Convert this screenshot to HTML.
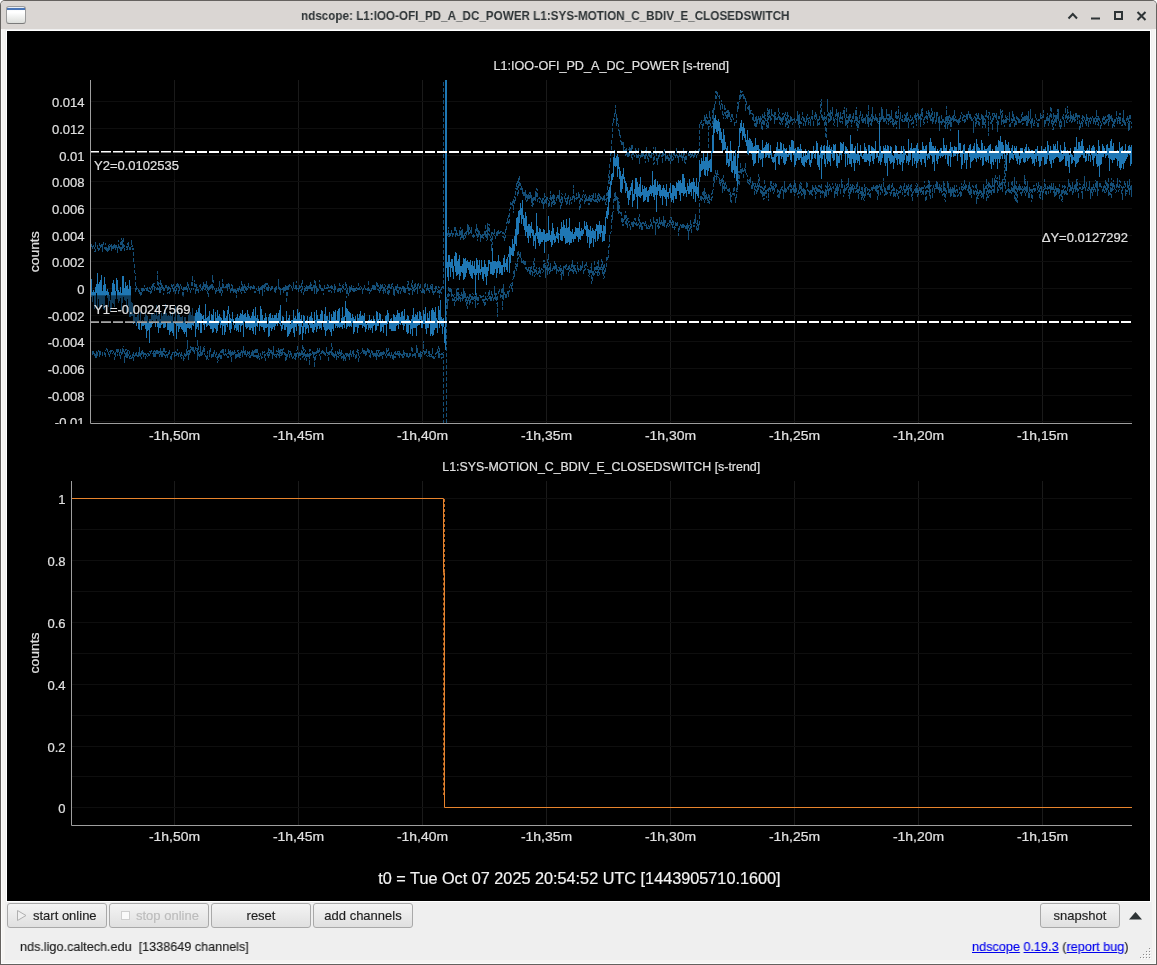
<!DOCTYPE html>
<html><head><meta charset="utf-8">
<style>
*{box-sizing:border-box}
.ttl,.btn,.status,.links{will-change:transform}
.btn,.status,.links{-webkit-text-stroke:0.15px currentColor}
html,body{margin:0;padding:0}
body{width:1157px;height:965px;position:relative;overflow:hidden;background:#fff;font-family:"Liberation Sans",sans-serif}
#win{position:absolute;left:0;top:0;width:1157px;height:965px;background:#65625f;border-radius:5px 5px 0 0}
#frame{position:absolute;left:1px;top:1px;width:1155px;height:963px;background:#fcfcfc;border-radius:4px 4px 0 0}
#frame2{position:absolute;left:2px;top:2px;width:1153px;height:961px;background:#f5f4f2;border-radius:4px 4px 0 0}
#title{position:absolute;left:1px;top:1px;width:1155px;height:28px;background:#dad6d3;border-radius:4px 4px 0 0}
#content{position:absolute;left:5px;top:29px;width:1147px;height:931px;background:#efefef}
#plotframe{position:absolute;left:6px;top:30px;width:1145px;height:872px;background:#fff}
#plot{position:absolute;left:7px;top:31px;width:1143px;height:870px;background:#000}
.ttl{position:absolute;left:300.6px;top:5.5px;transform:scaleX(0.898);font-weight:bold;font-size:13px;color:#2e3436;white-space:nowrap;transform-origin:0 0;line-height:20px}
.icon{position:absolute;left:6px;top:6px;width:20px;height:18px;border:1px solid #9a9a9a;border-bottom-color:#7a7a7a;border-radius:3px;background:linear-gradient(#e8eef6 0,#e8eef6 1px,#fff 4px,#fff 35%,#dcdedb 100%)}
.icon:before{content:"";position:absolute;left:0;right:0;top:1px;height:2px;background:#4a76b8}
.btn{position:absolute;top:903px;height:25px;border:1px solid #a9a9a9;border-radius:3px;background:linear-gradient(#f4f4f4,#e0e0e0);font-size:13px;color:#1e1e1e;text-align:center;line-height:23px;white-space:nowrap}
.dis{color:#bcbcbc}
.status{position:absolute;left:20px;top:938.5px;transform:scaleX(0.971);transform-origin:0 0;font-size:13px;color:#1e1e1e;white-space:pre;line-height:16px}
.links{position:absolute;left:972px;top:938.5px;transform:scaleX(0.975);transform-origin:0 0;font-size:13px;color:#1e1e1e;white-space:pre;line-height:16px}
.links a{color:#0000ee;text-decoration:underline}
.grip{position:absolute;width:1px;height:1px;background:#8a8a8a;box-shadow:1px 1px 0 #fff}
</style></head><body>
<div id="win"></div>
<div id="frame"></div>
<div id="frame2"></div>
<div id="title"></div>
<div class="icon"></div>
<div class="ttl" id="ttl">ndscope: L1:IOO-OFI_PD_A_DC_POWER L1:SYS-MOTION_C_BDIV_E_CLOSEDSWITCH</div>
<svg width="1157" height="30" style="position:absolute;left:0;top:0">
<path d="M1068.5 18.5L1072.8 14L1077 18.5" fill="none" stroke="#2e3436" stroke-width="2"/>
<rect x="1091" y="17.5" width="9" height="2" fill="#2e3436"/>
<rect x="1115" y="12" width="7" height="7" fill="none" stroke="#2e3436" stroke-width="2"/>
<path d="M1137.5 12L1145.5 20M1145.5 12L1137.5 20" stroke="#2e3436" stroke-width="2"/>
</svg>
<div id="content"></div>
<div id="plotframe"></div>
<div id="plot"></div>
<svg width="1157" height="965" viewBox="0 0 1157 965" style="position:absolute;left:0;top:0;will-change:transform">
<defs><clipPath id="ct"><rect x="91" y="80" width="1041" height="343"/></clipPath><clipPath id="cb"><rect x="72" y="481" width="1060" height="344"/></clipPath><clipPath id="cl"><rect x="0" y="0" width="90" height="424"/></clipPath></defs>
<line x1="174.5" y1="80" x2="174.5" y2="423" stroke="#1a1a1a"/><line x1="174.5" y1="481" x2="174.5" y2="825" stroke="#1a1a1a"/><line x1="298.5" y1="80" x2="298.5" y2="423" stroke="#1a1a1a"/><line x1="298.5" y1="481" x2="298.5" y2="825" stroke="#1a1a1a"/><line x1="422.5" y1="80" x2="422.5" y2="423" stroke="#1a1a1a"/><line x1="422.5" y1="481" x2="422.5" y2="825" stroke="#1a1a1a"/><line x1="546.5" y1="80" x2="546.5" y2="423" stroke="#1a1a1a"/><line x1="546.5" y1="481" x2="546.5" y2="825" stroke="#1a1a1a"/><line x1="670.5" y1="80" x2="670.5" y2="423" stroke="#1a1a1a"/><line x1="670.5" y1="481" x2="670.5" y2="825" stroke="#1a1a1a"/><line x1="794.5" y1="80" x2="794.5" y2="423" stroke="#1a1a1a"/><line x1="794.5" y1="481" x2="794.5" y2="825" stroke="#1a1a1a"/><line x1="918.5" y1="80" x2="918.5" y2="423" stroke="#1a1a1a"/><line x1="918.5" y1="481" x2="918.5" y2="825" stroke="#1a1a1a"/><line x1="1042.5" y1="80" x2="1042.5" y2="423" stroke="#1a1a1a"/><line x1="1042.5" y1="481" x2="1042.5" y2="825" stroke="#1a1a1a"/><line x1="91" y1="101.5" x2="1132" y2="101.5" stroke="#0e0e0e"/><line x1="91" y1="128.5" x2="1132" y2="128.5" stroke="#0e0e0e"/><line x1="91" y1="155.5" x2="1132" y2="155.5" stroke="#0e0e0e"/><line x1="91" y1="181.5" x2="1132" y2="181.5" stroke="#0e0e0e"/><line x1="91" y1="208.5" x2="1132" y2="208.5" stroke="#0e0e0e"/><line x1="91" y1="235.5" x2="1132" y2="235.5" stroke="#0e0e0e"/><line x1="91" y1="261.5" x2="1132" y2="261.5" stroke="#0e0e0e"/><line x1="91" y1="288.5" x2="1132" y2="288.5" stroke="#0e0e0e"/><line x1="91" y1="315.5" x2="1132" y2="315.5" stroke="#0e0e0e"/><line x1="91" y1="341.5" x2="1132" y2="341.5" stroke="#0e0e0e"/><line x1="91" y1="368.5" x2="1132" y2="368.5" stroke="#0e0e0e"/><line x1="91" y1="395.5" x2="1132" y2="395.5" stroke="#0e0e0e"/><line x1="91" y1="421.5" x2="1132" y2="421.5" stroke="#0e0e0e"/><line x1="72" y1="498.5" x2="1132" y2="498.5" stroke="#0e0e0e"/><line x1="72" y1="529.5" x2="1132" y2="529.5" stroke="#0e0e0e"/><line x1="72" y1="560.5" x2="1132" y2="560.5" stroke="#0e0e0e"/><line x1="72" y1="591.5" x2="1132" y2="591.5" stroke="#0e0e0e"/><line x1="72" y1="622.5" x2="1132" y2="622.5" stroke="#0e0e0e"/><line x1="72" y1="653.5" x2="1132" y2="653.5" stroke="#0e0e0e"/><line x1="72" y1="684.5" x2="1132" y2="684.5" stroke="#0e0e0e"/><line x1="72" y1="715.5" x2="1132" y2="715.5" stroke="#0e0e0e"/><line x1="72" y1="746.5" x2="1132" y2="746.5" stroke="#0e0e0e"/><line x1="72" y1="776.5" x2="1132" y2="776.5" stroke="#0e0e0e"/><line x1="72" y1="807.5" x2="1132" y2="807.5" stroke="#0e0e0e"/>
<g clip-path="url(#ct)" fill="none" stroke-linejoin="miter">
<path d="M90.0 242.5L90.4 247.9L90.8 251.3L91.2 243.8L91.7 245.0L92.1 246.9L92.5 249.5L92.9 247.9L93.3 245.5L93.7 247.8L94.1 249.4L94.5 247.4L95.0 251.8L95.4 247.6L95.8 243.4L96.2 244.1L96.6 245.8L97.0 245.5L97.4 247.8L97.9 246.5L98.3 250.9L98.7 248.0L99.1 250.3L99.5 243.2L99.9 244.3L100.3 247.7L100.8 246.0L101.2 247.7L101.6 247.5L102.0 244.2L102.4 251.5L102.8 250.5L103.2 242.2L103.6 245.1L104.1 246.9L104.5 248.9L104.9 246.9L105.3 243.1L105.7 249.7L106.1 246.6L106.5 250.8L107.0 248.2L107.4 250.5L107.8 252.9L108.2 250.0L108.6 245.5L109.0 250.2L109.4 247.5L109.8 243.6L110.3 246.2L110.7 246.5L111.1 248.8L111.5 249.6L111.9 244.2L112.3 249.8L112.7 247.6L113.2 244.3L113.6 250.3L114.0 245.3L114.4 243.8L114.8 249.2L115.2 249.5L115.6 244.8L116.0 250.1L116.5 249.9L116.9 245.4L117.3 253.0L117.7 246.8L118.1 247.9L118.5 239.9L118.9 249.4L119.4 245.8L119.8 249.2L120.2 242.4L120.6 250.6L121.0 251.0L121.4 252.2L121.8 237.6L122.3 248.3L122.7 247.6L123.1 237.6L123.5 244.3L123.9 246.4L124.3 250.9L124.7 244.6L125.1 247.8L125.6 247.0L126.0 248.2L126.4 245.6L126.8 249.7L127.2 249.6L127.6 242.6L128.0 249.7L128.5 241.6L128.9 245.8L129.3 249.8L129.7 246.6L130.1 247.7L130.5 248.7L130.9 248.0L131.3 244.9L131.8 240.5L132.2 249.0L132.6 249.1L133.0 248.0L133.4 251.7L133.8 260.6L134.2 263.3L134.7 265.2L135.1 275.6L135.5 282.4L135.9 291.9L136.3 285.5L136.7 286.2L137.1 289.3L137.6 287.4L138.0 288.6L138.4 291.5L138.8 289.9L139.2 294.1L139.6 289.9L140.0 294.1L140.4 292.4L140.9 296.7L141.3 289.0L141.7 288.6L142.1 292.9L142.5 287.5L142.9 288.1L143.3 290.0L143.8 290.2L144.2 284.9L144.6 291.1L145.0 288.2L145.4 289.0L145.8 289.2L146.2 288.0L146.6 291.5L147.1 291.8L147.5 287.8L147.9 288.3L148.3 291.1L148.7 290.4L149.1 291.7L149.5 287.5L150.0 288.0L150.4 293.6L150.8 287.7L151.2 292.9L151.6 290.5L152.0 286.5L152.4 283.9L152.9 289.7L153.3 283.2L153.7 285.4L154.1 282.7L154.5 291.3L154.9 288.1L155.3 287.6L155.7 288.8L156.2 288.4L156.6 288.2L157.0 289.6L157.4 287.0L157.8 271.5L158.2 290.3L158.6 289.4L159.1 288.4L159.5 293.0L159.9 284.0L160.3 279.5L160.7 292.8L161.1 289.3L161.5 283.0L161.9 286.9L162.4 290.1L162.8 284.8L163.2 290.1L163.6 294.8L164.0 292.7L164.4 288.3L164.8 289.5L165.3 285.5L165.7 289.0L166.1 287.6L166.5 285.6L166.9 284.5L167.3 294.4L167.7 289.2L168.2 285.5L168.6 287.3L169.0 292.9L169.4 293.4L169.8 287.0L170.2 289.3L170.6 291.5L171.0 287.6L171.5 285.4L171.9 286.1L172.3 288.9L172.7 286.4L173.1 284.3L173.5 287.5L173.9 290.9L174.4 290.1L174.8 287.5L175.2 293.5L175.6 286.0L176.0 288.2L176.4 284.5L176.8 290.8L177.2 287.5L177.7 282.6L178.1 284.9L178.5 293.3L178.9 293.3L179.3 288.6L179.7 290.9L180.1 283.6L180.6 286.2L181.0 284.9L181.4 286.4L181.8 287.5L182.2 290.0L182.6 295.6L183.0 291.7L183.4 296.8L183.9 287.2L184.3 288.7L184.7 289.9L185.1 286.1L185.5 287.2L185.9 289.7L186.3 286.0L186.8 289.7L187.2 292.0L187.6 285.7L188.0 282.3L188.4 289.4L188.8 285.7L189.2 289.3L189.7 287.7L190.1 291.2L190.5 292.0L190.9 291.1L191.3 287.4L191.7 285.2L192.1 281.4L192.5 275.3L193.0 286.8L193.4 290.0L193.8 287.5L194.2 288.2L194.6 279.8L195.0 285.3L195.4 284.7L195.9 294.2L196.3 283.9L196.7 291.5L197.1 286.8L197.5 291.1L197.9 289.9L198.3 291.6L198.7 292.7L199.2 286.7L199.6 285.7L200.0 287.0L200.4 283.9L200.8 290.9L201.2 288.5L201.6 288.8L202.1 289.5L202.5 286.5L202.9 290.9L203.3 282.2L203.7 288.6L204.1 288.8L204.5 284.9L205.0 285.3L205.4 289.9L205.8 286.4L206.2 281.4L206.6 283.2L207.0 290.5L207.4 285.1L207.8 291.8L208.3 296.7L208.7 287.0L209.1 289.6L209.5 285.5L209.9 287.1L210.3 286.3L210.7 289.7L211.2 283.9L211.6 287.4L212.0 287.9L212.4 289.6L212.8 274.6L213.2 283.2L213.6 286.2L214.0 287.7L214.5 289.0L214.9 288.9L215.3 294.2L215.7 290.5L216.1 290.1L216.5 287.0L216.9 290.7L217.4 290.1L217.8 290.1L218.2 287.2L218.6 290.2L219.0 292.9L219.4 285.5L219.8 281.4L220.2 293.0L220.7 289.9L221.1 287.1L221.5 286.8L221.9 296.4L222.3 286.6L222.7 279.5L223.1 285.9L223.6 288.7L224.0 285.0L224.4 285.8L224.8 288.0L225.2 286.1L225.6 288.0L226.0 287.6L226.5 284.5L226.9 288.1L227.3 284.5L227.7 290.7L228.1 285.2L228.5 287.5L228.9 282.6L229.3 286.5L229.8 285.0L230.2 293.4L230.6 288.9L231.0 291.0L231.4 284.2L231.8 285.7L232.2 288.9L232.7 285.5L233.1 293.4L233.5 288.7L233.9 290.4L234.3 291.2L234.7 289.6L235.1 292.6L235.5 288.0L236.0 292.2L236.4 297.5L236.8 290.5L237.2 290.1L237.6 287.8L238.0 290.5L238.4 292.4L238.9 289.7L239.3 285.6L239.7 291.2L240.1 289.6L240.5 291.4L240.9 290.0L241.3 294.2L241.8 281.3L242.2 286.2L242.6 291.0L243.0 286.1L243.4 290.1L243.8 289.3L244.2 283.3L244.6 290.9L245.1 293.1L245.5 289.3L245.9 284.7L246.3 291.2L246.7 285.7L247.1 288.0L247.5 289.8L248.0 285.8L248.4 282.9L248.8 287.6L249.2 287.8L249.6 285.6L250.0 286.0L250.4 290.5L250.8 288.1L251.3 286.9L251.7 286.4L252.1 288.8L252.5 288.9L252.9 288.3L253.3 284.7L253.7 287.8L254.2 287.1L254.6 289.5L255.0 292.7L255.4 292.4L255.8 291.5L256.2 290.0L256.6 288.5L257.1 290.7L257.5 288.5L257.9 288.6L258.3 287.5L258.7 289.7L259.1 289.0L259.5 294.0L259.9 289.7L260.4 286.7L260.8 290.3L261.2 286.2L261.6 290.6L262.0 289.7L262.4 296.2L262.8 284.3L263.3 287.1L263.7 287.3L264.1 288.6L264.5 292.4L264.9 284.8L265.3 282.7L265.7 288.0L266.1 289.7L266.6 284.0L267.0 282.7L267.4 290.5L267.8 289.8L268.2 291.1L268.6 284.7L269.0 287.2L269.5 288.8L269.9 289.8L270.3 288.3L270.7 288.7L271.1 291.5L271.5 285.8L271.9 285.2L272.4 287.9L272.8 287.7L273.2 289.4L273.6 287.5L274.0 287.5L274.4 292.6L274.8 289.3L275.2 287.5L275.7 292.6L276.1 285.4L276.5 289.0L276.9 288.5L277.3 287.3L277.7 287.8L278.1 289.0L278.6 279.1L279.0 287.4L279.4 289.0L279.8 289.1L280.2 288.9L280.6 295.3L281.0 290.4L281.4 288.1L281.9 288.4L282.3 288.8L282.7 290.3L283.1 287.8L283.5 293.4L283.9 285.9L284.3 290.5L284.8 290.2L285.2 285.4L285.6 290.3L286.0 289.9L286.4 286.2L286.8 302.9L287.2 290.4L287.6 285.9L288.1 287.1L288.5 286.4L288.9 289.3L289.3 288.5L289.7 284.3L290.1 285.5L290.5 286.6L291.0 287.1L291.4 287.3L291.8 286.6L292.2 290.1L292.6 291.2L293.0 288.4L293.4 282.0L293.9 287.3L294.3 289.3L294.7 287.9L295.1 288.9L295.5 288.3L295.9 284.1L296.3 281.3L296.7 290.5L297.2 287.6L297.6 290.3L298.0 288.2L298.4 288.4L298.8 292.5L299.2 285.5L299.6 289.2L300.1 286.1L300.5 289.3L300.9 290.6L301.3 291.6L301.7 290.0L302.1 280.5L302.5 289.7L302.9 291.1L303.4 291.4L303.8 294.6L304.2 290.4L304.6 285.9L305.0 287.1L305.4 288.8L305.8 291.7L306.3 285.4L306.7 291.3L307.1 290.3L307.5 285.5L307.9 290.1L308.3 286.3L308.7 288.2L309.2 287.6L309.6 288.8L310.0 284.4L310.4 289.3L310.8 281.5L311.2 286.4L311.6 285.8L312.0 291.7L312.5 288.7L312.9 286.2L313.3 285.1L313.7 288.1L314.1 286.3L314.5 294.2L314.9 280.1L315.4 288.2L315.8 280.8L316.2 294.4L316.6 286.1L317.0 292.8L317.4 287.0L317.8 291.8L318.2 289.0L318.7 291.4L319.1 288.2L319.5 279.8L319.9 286.4L320.3 284.1L320.7 291.4L321.1 290.4L321.6 288.9L322.0 290.1L322.4 289.6L322.8 287.7L323.2 294.9L323.6 290.4L324.0 288.9L324.4 285.0L324.9 287.5L325.3 289.4L325.7 289.1L326.1 288.2L326.5 289.3L326.9 286.0L327.3 289.2L327.8 284.5L328.2 286.3L328.6 286.5L329.0 291.6L329.4 290.5L329.8 289.2L330.2 285.9L330.7 288.1L331.1 291.4L331.5 292.5L331.9 284.5L332.3 287.3L332.7 288.8L333.1 289.3L333.5 288.3L334.0 289.8L334.4 283.8L334.8 292.6L335.2 285.0L335.6 288.3L336.0 289.8L336.4 291.3L336.9 290.4L337.3 290.1L337.7 291.5L338.1 287.6L338.5 290.3L338.9 292.8L339.3 286.2L339.7 284.4L340.2 285.7L340.6 292.3L341.0 292.1L341.4 287.6L341.8 289.6L342.2 290.4L342.6 292.2L343.1 283.9L343.5 287.7L343.9 288.2L344.3 290.1L344.7 289.6L345.1 288.4L345.5 290.0L346.0 281.8L346.4 297.8L346.8 291.7L347.2 292.3L347.6 287.9L348.0 290.8L348.4 295.6L348.8 294.9L349.3 289.6L349.7 285.7L350.1 289.6L350.5 287.2L350.9 291.9L351.3 285.5L351.7 288.6L352.2 289.8L352.6 287.8L353.0 292.3L353.4 286.1L353.8 286.1L354.2 288.7L354.6 292.0L355.0 288.4L355.5 287.2L355.9 291.2L356.3 289.3L356.7 287.1L357.1 289.1L357.5 287.7L357.9 290.3L358.4 288.9L358.8 283.2L359.2 286.9L359.6 287.2L360.0 289.6L360.4 289.5L360.8 285.9L361.3 287.6L361.7 289.1L362.1 291.5L362.5 289.0L362.9 293.9L363.3 288.1L363.7 290.0L364.1 286.9L364.6 285.2L365.0 288.4L365.4 290.0L365.8 289.9L366.2 289.6L366.6 288.4L367.0 287.2L367.5 288.6L367.9 290.9L368.3 292.1L368.7 280.0L369.1 291.2L369.5 292.6L369.9 293.2L370.3 290.6L370.8 291.6L371.2 288.6L371.6 289.5L372.0 291.3L372.4 286.3L372.8 287.1L373.2 289.5L373.7 285.4L374.1 289.6L374.5 284.9L374.9 289.6L375.3 289.0L375.7 286.4L376.1 285.5L376.6 286.9L377.0 281.8L377.4 286.7L377.8 288.1L378.2 291.1L378.6 286.3L379.0 287.1L379.4 291.6L379.9 292.5L380.3 284.2L380.7 290.5L381.1 290.7L381.5 290.4L381.9 284.0L382.3 284.4L382.8 288.7L383.2 293.8L383.6 286.9L384.0 291.8L384.4 292.8L384.8 284.1L385.2 285.8L385.6 292.1L386.1 291.1L386.5 289.6L386.9 287.7L387.3 290.0L387.7 286.4L388.1 295.3L388.5 284.8L389.0 283.0L389.4 288.7L389.8 292.5L390.2 287.0L390.6 288.3L391.0 285.6L391.4 288.7L391.8 285.8L392.3 282.9L392.7 284.7L393.1 287.8L393.5 294.8L393.9 289.1L394.3 289.5L394.7 295.6L395.2 287.0L395.6 286.0L396.0 290.6L396.4 285.5L396.8 290.4L397.2 293.1L397.6 282.8L398.1 288.4L398.5 294.9L398.9 286.8L399.3 288.0L399.7 290.6L400.1 289.0L400.5 287.4L400.9 294.2L401.4 288.0L401.8 290.6L402.2 286.9L402.6 287.9L403.0 285.7L403.4 292.3L403.8 288.2L404.3 293.0L404.7 286.4L405.1 288.4L405.5 291.2L405.9 290.2L406.3 287.7L406.7 289.2L407.1 285.6L407.6 289.2L408.0 281.2L408.4 289.6L408.8 292.9L409.2 294.8L409.6 291.8L410.0 288.1L410.5 290.8L410.9 288.3L411.3 289.3L411.7 289.2L412.1 279.7L412.5 295.6L412.9 291.0L413.4 291.9L413.8 286.4L414.2 291.3L414.6 290.9L415.0 283.0L415.4 284.1L415.8 289.5L416.2 287.3L416.7 289.3L417.1 287.5L417.5 293.8L417.9 284.0L418.3 285.6L418.7 282.9L419.1 285.2L419.6 285.4L420.0 288.5L420.4 284.5L420.8 289.3L421.2 291.9L421.6 291.5L422.0 294.0L422.4 291.5L422.9 287.7L423.3 293.3L423.7 290.3L424.1 293.8L424.5 288.1L424.9 282.3L425.3 284.7L425.8 288.5L426.2 289.7L426.6 287.7L427.0 290.8L427.4 284.5L427.8 285.6L428.2 290.9L428.6 288.5L429.1 288.7L429.5 292.4L429.9 291.6L430.3 286.3L430.7 289.4L431.1 284.2L431.5 288.9L432.0 291.5L432.4 283.9L432.8 293.2L433.2 294.9L433.6 290.4L434.0 291.6L434.4 293.2L434.9 288.2L435.3 292.0L435.7 290.4L436.1 285.2L436.5 287.0L436.9 287.8L437.3 293.2L437.7 290.6L438.2 293.3L438.6 288.9L439.0 286.2L439.4 295.7L439.8 297.7L440.2 291.1L440.6 289.4L441.1 293.5L441.5 286.8L441.9 289.6L442.3 285.7L443.5 289.0L443.5 40.0L445.5 40.0L445.5 234.0L445.6 233.9L446.0 239.0L446.4 231.6L446.8 234.2L447.3 233.2L447.7 233.5L448.1 236.9L448.5 226.6L448.9 236.7L449.3 236.5L449.7 234.0L450.2 234.5L450.6 233.0L451.0 236.4L451.4 234.2L451.8 230.4L452.2 234.0L452.6 237.3L453.0 234.7L453.5 233.5L453.9 233.7L454.3 230.9L454.7 230.8L455.1 225.8L455.5 232.5L455.9 236.6L456.4 232.0L456.8 230.1L457.2 236.9L457.6 234.1L458.0 234.8L458.4 235.4L458.8 235.9L459.2 232.8L459.7 230.1L460.1 239.7L460.5 233.2L460.9 227.0L461.3 234.0L461.7 237.8L462.1 228.1L462.6 238.4L463.0 232.6L463.4 240.7L463.8 235.7L464.2 232.9L464.6 238.2L465.0 238.4L465.5 232.2L465.9 234.3L466.3 231.5L466.7 236.4L467.1 227.3L467.5 231.7L467.9 224.5L468.3 234.8L468.8 224.6L469.2 229.2L469.6 234.4L470.0 230.6L470.4 231.6L470.8 229.7L471.2 231.5L471.7 227.1L472.1 236.2L472.5 236.6L472.9 236.3L473.3 233.4L473.7 238.0L474.1 235.0L474.5 237.1L475.0 234.9L475.4 233.6L475.8 230.8L476.2 223.9L476.6 236.1L477.0 233.4L477.4 241.4L477.9 227.0L478.3 237.3L478.7 230.4L479.1 233.9L479.5 230.8L479.9 235.2L480.3 233.6L480.8 241.5L481.2 235.0L481.6 236.3L482.0 238.9L482.4 236.1L482.8 233.7L483.2 238.9L483.6 233.9L484.1 235.9L484.5 233.8L484.9 232.5L485.3 223.6L485.7 237.3L486.1 230.0L486.5 236.8L487.0 240.7L487.4 223.2L487.8 237.4L488.2 233.5L488.6 235.2L489.0 223.7L489.4 233.6L489.8 233.6L490.3 238.5L490.7 241.4L491.1 234.2L491.5 231.7L491.9 250.9L492.3 232.4L492.7 232.4L493.2 233.1L493.6 234.6L494.0 235.4L494.4 228.5L494.8 232.1L495.2 239.3L495.6 238.4L496.0 236.5L496.5 233.9L496.9 232.3L497.3 236.7L497.7 231.1L498.1 233.6L498.5 231.5L498.9 230.8L499.4 233.4L499.8 233.2L500.2 231.5L500.6 233.3L501.0 233.5L501.4 231.5L501.8 231.0L502.3 232.9L502.7 236.1L503.1 237.7L503.5 234.2L503.9 232.5L504.3 233.3L504.7 240.8L505.1 236.9L505.6 228.5L506.0 230.2L506.4 226.5L506.8 225.5L507.2 218.6L507.6 223.4L508.0 216.7L508.5 215.2L508.9 223.5L509.3 224.5L509.7 211.4L510.1 208.9L510.5 207.6L510.9 202.1L511.3 204.2L511.8 205.1L512.2 200.5L512.6 205.8L513.0 201.4L513.4 198.3L513.8 213.3L514.2 199.8L514.7 196.0L515.1 200.5L515.5 197.0L515.9 187.9L516.3 190.3L516.7 186.1L517.1 181.0L517.6 192.2L518.0 196.3L518.4 177.9L518.8 183.0L519.2 175.4L519.6 186.8L520.0 183.7L520.4 183.7L520.9 190.1L521.3 186.3L521.7 186.4L522.1 191.8L522.5 188.3L522.9 193.6L523.3 191.1L523.8 195.4L524.2 195.1L524.6 196.3L525.0 190.1L525.4 201.4L525.8 194.1L526.2 201.7L526.6 193.4L527.1 194.9L527.5 195.5L527.9 201.0L528.3 195.6L528.7 199.3L529.1 192.5L529.5 196.7L530.0 199.3L530.4 198.1L530.8 191.6L531.2 200.5L531.6 195.5L532.0 206.0L532.4 198.0L532.9 206.9L533.3 201.0L533.7 200.3L534.1 196.2L534.5 197.9L534.9 200.1L535.3 190.9L535.7 202.2L536.2 194.4L536.6 197.8L537.0 188.5L537.4 200.6L537.8 201.5L538.2 199.9L538.6 200.1L539.1 197.2L539.5 199.4L539.9 203.4L540.3 197.6L540.7 201.3L541.1 202.5L541.5 198.9L541.9 200.5L542.4 200.3L542.8 197.8L543.2 209.0L543.6 198.0L544.0 206.2L544.4 204.1L544.8 192.4L545.3 201.3L545.7 204.6L546.1 203.8L546.5 197.2L546.9 201.8L547.3 196.5L547.7 197.3L548.1 200.5L548.6 202.1L549.0 207.5L549.4 203.0L549.8 205.3L550.2 191.4L550.6 197.2L551.0 199.5L551.5 207.6L551.9 195.9L552.3 195.0L552.7 200.6L553.1 205.1L553.5 194.2L553.9 199.6L554.4 195.3L554.8 205.9L555.2 202.9L555.6 201.1L556.0 199.6L556.4 198.8L556.8 200.7L557.2 197.1L557.7 196.0L558.1 194.9L558.5 199.0L558.9 195.9L559.3 201.9L559.7 190.5L560.1 200.9L560.6 203.4L561.0 208.6L561.4 197.2L561.8 192.8L562.2 194.9L562.6 202.9L563.0 197.7L563.4 197.4L563.9 197.0L564.3 198.6L564.7 198.0L565.1 193.1L565.5 196.7L565.9 202.8L566.3 204.5L566.8 198.6L567.2 197.4L567.6 204.4L568.0 198.9L568.4 195.2L568.8 199.1L569.2 202.2L569.7 205.4L570.1 197.3L570.5 201.1L570.9 197.6L571.3 203.6L571.7 201.7L572.1 200.2L572.5 195.4L573.0 197.7L573.4 197.8L573.8 185.4L574.2 202.2L574.6 199.1L575.0 198.4L575.4 197.4L575.9 198.8L576.3 199.3L576.7 193.2L577.1 198.6L577.5 198.4L577.9 198.2L578.3 192.5L578.7 197.8L579.2 193.6L579.6 200.2L580.0 210.1L580.4 202.5L580.8 198.2L581.2 197.6L581.6 197.2L582.1 200.5L582.5 196.9L582.9 197.5L583.3 190.1L583.7 192.5L584.1 196.2L584.5 197.3L585.0 204.0L585.4 194.1L585.8 194.1L586.2 201.4L586.6 195.8L587.0 199.3L587.4 200.7L587.8 200.2L588.3 197.0L588.7 203.1L589.1 204.9L589.5 195.2L589.9 196.3L590.3 202.2L590.7 197.9L591.2 194.7L591.6 196.8L592.0 201.6L592.4 194.8L592.8 199.1L593.2 199.8L593.6 192.7L594.0 200.2L594.5 200.9L594.9 201.9L595.3 201.8L595.7 192.7L596.1 201.8L596.5 200.6L596.9 201.8L597.4 194.7L597.8 201.3L598.2 200.6L598.6 193.4L599.0 202.7L599.4 195.2L599.8 194.4L600.2 199.5L600.7 195.5L601.1 199.1L601.5 196.7L601.9 198.9L602.3 201.0L602.7 197.7L603.1 201.0L603.6 201.2L604.0 194.7L604.4 201.3L604.8 200.4L605.2 198.7L605.6 202.3L606.0 204.6L606.5 201.3L606.9 193.2L607.3 199.3L607.7 190.1L608.1 184.6L608.5 182.1L608.9 174.3L609.3 184.1L609.8 166.3L610.2 160.5L610.6 158.5L611.0 153.6L611.4 150.6L611.8 144.0L612.2 136.9L612.7 132.9L613.1 119.4L613.5 117.7L613.9 122.5L614.3 112.8L614.7 116.4L615.1 113.9L615.5 105.3L616.0 113.6L616.4 125.7L616.8 114.3L617.2 121.2L617.6 121.5L618.0 123.9L618.4 126.1L618.9 129.6L619.3 134.6L619.7 130.5L620.1 137.3L620.5 134.8L620.9 142.0L621.3 143.2L621.8 140.9L622.2 145.8L622.6 143.2L623.0 143.6L623.4 152.3L623.8 141.8L624.2 151.4L624.6 152.7L625.1 148.6L625.5 155.8L625.9 155.7L626.3 148.2L626.7 155.8L627.1 156.3L627.5 151.6L628.0 156.6L628.4 157.4L628.8 151.7L629.2 146.6L629.6 156.1L630.0 151.8L630.4 148.5L630.8 153.4L631.3 145.5L631.7 153.4L632.1 160.4L632.5 143.9L632.9 156.3L633.3 151.2L633.7 153.2L634.2 151.2L634.6 157.4L635.0 154.9L635.4 148.3L635.8 149.6L636.2 152.7L636.6 159.1L637.0 150.5L637.5 156.8L637.9 156.3L638.3 147.4L638.7 159.2L639.1 155.1L639.5 164.2L639.9 162.0L640.4 154.5L640.8 154.5L641.2 151.2L641.6 150.0L642.0 158.0L642.4 154.0L642.8 151.6L643.3 154.4L643.7 157.7L644.1 158.5L644.5 155.1L644.9 153.8L645.3 155.6L645.7 162.6L646.1 146.9L646.6 150.6L647.0 156.4L647.4 155.1L647.8 159.0L648.2 159.5L648.6 162.1L649.0 151.6L649.5 157.0L649.9 153.9L650.3 158.7L650.7 155.7L651.1 158.5L651.5 152.2L651.9 155.6L652.3 153.1L652.8 153.0L653.2 153.5L653.6 146.8L654.0 164.6L654.4 156.0L654.8 158.9L655.2 151.0L655.7 147.1L656.1 151.9L656.5 153.8L656.9 161.0L657.3 158.2L657.7 164.5L658.1 160.0L658.6 157.2L659.0 155.4L659.4 151.2L659.8 156.7L660.2 152.1L660.6 150.9L661.0 156.1L661.4 154.7L661.9 157.0L662.3 151.1L662.7 163.7L663.1 155.4L663.5 153.6L663.9 151.3L664.3 150.3L664.8 149.4L665.2 160.6L665.6 150.2L666.0 158.8L666.4 155.4L666.8 154.4L667.2 155.2L667.6 156.8L668.1 160.6L668.5 159.2L668.9 157.0L669.3 151.8L669.7 150.4L670.1 164.3L670.5 152.9L671.0 150.8L671.4 161.4L671.8 151.3L672.2 159.9L672.6 160.6L673.0 157.9L673.4 160.2L673.9 151.2L674.3 151.9L674.7 155.6L675.1 156.0L675.5 155.3L675.9 157.5L676.3 152.6L676.7 147.4L677.2 156.9L677.6 154.3L678.0 158.0L678.4 163.1L678.8 155.7L679.2 157.2L679.6 151.2L680.1 158.0L680.5 155.9L680.9 155.8L681.3 158.4L681.7 150.7L682.1 157.4L682.5 156.9L682.9 161.2L683.4 148.1L683.8 154.8L684.2 163.3L684.6 153.2L685.0 153.0L685.4 161.8L685.8 164.3L686.3 154.9L686.7 151.6L687.1 151.9L687.5 151.1L687.9 151.2L688.3 151.5L688.7 155.0L689.1 154.3L689.6 156.3L690.0 154.6L690.4 150.2L690.8 157.5L691.2 155.7L691.6 152.3L692.0 153.1L692.5 155.4L692.9 154.7L693.3 153.8L693.7 157.4L694.1 158.5L694.5 152.8L694.9 154.3L695.4 149.9L695.8 153.5L696.2 156.3L696.6 158.0L697.0 154.9L697.4 153.6L697.8 151.1L698.2 154.8L698.7 149.2L699.1 151.7L699.5 138.4L699.9 121.8L700.3 124.1L700.7 121.5L701.1 125.1L701.6 120.5L702.0 124.7L702.4 129.4L702.8 123.5L703.2 126.0L703.6 119.9L704.0 121.4L704.4 114.9L704.9 122.4L705.3 118.0L705.7 123.7L706.1 114.3L706.5 119.4L706.9 123.5L707.3 125.5L707.8 116.6L708.2 121.8L708.6 148.7L709.0 127.1L709.4 124.3L709.8 111.2L710.2 119.4L710.7 126.1L711.1 124.9L711.5 126.0L711.9 128.2L712.3 122.1L712.7 122.3L713.1 107.2L713.5 123.4L714.0 108.0L714.4 103.4L714.8 110.0L715.2 102.9L715.6 101.3L716.0 91.3L716.4 96.3L716.9 99.2L717.3 91.6L717.7 94.8L718.1 96.7L718.5 97.3L718.9 96.7L719.3 95.4L719.7 104.1L720.2 104.5L720.6 109.6L721.0 104.9L721.4 102.5L721.8 99.7L722.2 107.1L722.6 104.3L723.1 117.1L723.5 119.2L723.9 117.1L724.3 106.1L724.7 104.2L725.1 110.1L725.5 107.7L726.0 118.6L726.4 112.8L726.8 110.8L727.2 113.2L727.6 119.4L728.0 110.0L728.4 116.9L728.8 109.6L729.3 114.7L729.7 113.1L730.1 119.5L730.5 117.3L730.9 122.2L731.3 120.6L731.7 115.5L732.2 112.8L732.6 116.0L733.0 118.4L733.4 120.0L733.8 117.8L734.2 126.6L734.6 126.5L735.0 121.5L735.5 121.2L735.9 122.8L736.3 121.9L736.7 119.3L737.1 109.2L737.5 111.5L737.9 101.9L738.4 108.0L738.8 108.2L739.2 97.4L739.6 100.1L740.0 93.6L740.4 90.3L740.8 99.6L741.2 94.4L741.7 93.4L742.1 90.6L742.5 95.9L742.9 94.6L743.3 98.7L743.7 93.9L744.1 99.2L744.6 98.8L745.0 95.7L745.4 111.1L745.8 108.3L746.2 102.4L746.6 100.5L747.0 105.2L747.5 106.4L747.9 108.9L748.3 105.7L748.7 109.1L749.1 113.4L749.5 115.3L749.9 105.1L750.3 114.3L750.8 110.4L751.2 110.3L751.6 114.1L752.0 112.7L752.4 119.3L752.8 119.5L753.2 114.8L753.7 113.8L754.1 124.9L754.5 125.4L754.9 121.3L755.3 116.6L755.7 127.7L756.1 124.6L756.5 116.0L757.0 126.6L757.4 118.2L757.8 123.6L758.2 116.5L758.6 119.5L759.0 117.3L759.4 119.5L759.9 124.4L760.3 115.9L760.7 119.0L761.1 122.4L761.5 117.9L761.9 128.8L762.3 112.8L762.8 130.9L763.2 116.2L763.6 123.3L764.0 125.9L764.4 120.9L764.8 112.5L765.2 117.3L765.6 119.0L766.1 120.8L766.5 122.5L766.9 129.1L767.3 124.8L767.7 108.3L768.1 127.8L768.5 109.5L769.0 117.9L769.4 112.1L769.8 108.5L770.2 120.8L770.6 116.4L771.0 120.8L771.4 109.4L771.8 110.8L772.3 116.2L772.7 113.6L773.1 117.2L773.5 114.3L773.9 115.6L774.3 112.2L774.7 123.7L775.2 116.0L775.6 112.4L776.0 121.0L776.4 120.3L776.8 118.8L777.2 119.0L777.6 116.1L778.1 117.6L778.5 108.0L778.9 111.2L779.3 112.9L779.7 120.0L780.1 124.6L780.5 117.9L780.9 117.4L781.4 123.8L781.8 116.9L782.2 125.3L782.6 120.3L783.0 112.7L783.4 119.8L783.8 120.3L784.3 113.6L784.7 113.9L785.1 112.3L785.5 124.3L785.9 127.4L786.3 121.3L786.7 125.4L787.1 112.4L787.6 125.0L788.0 127.8L788.4 126.0L788.8 114.7L789.2 124.3L789.6 118.7L790.0 123.8L790.5 116.1L790.9 119.5L791.3 116.7L791.7 121.8L792.1 119.2L792.5 124.6L792.9 123.6L793.4 121.6L793.8 119.7L794.2 118.5L794.6 119.8L795.0 123.2L795.4 120.6L795.8 122.9L796.2 119.8L796.7 119.3L797.1 116.5L797.5 110.9L797.9 122.0L798.3 121.7L798.7 115.0L799.1 128.1L799.6 114.0L800.0 123.9L800.4 122.2L800.8 120.8L801.2 124.3L801.6 123.2L802.0 118.4L802.4 113.7L802.9 112.8L803.3 119.3L803.7 125.7L804.1 122.3L804.5 118.6L804.9 120.0L805.3 121.6L805.8 126.6L806.2 115.3L806.6 122.0L807.0 119.8L807.4 115.0L807.8 113.9L808.2 124.5L808.6 119.9L809.1 117.4L809.5 119.0L809.9 122.8L810.3 118.7L810.7 125.8L811.1 117.7L811.5 115.2L812.0 118.3L812.4 109.5L812.8 117.3L813.2 124.9L813.6 126.7L814.0 121.4L814.4 119.2L814.9 113.5L815.3 113.1L815.7 119.6L816.1 118.7L816.5 115.5L816.9 113.9L817.3 125.9L817.7 123.3L818.2 119.0L818.6 119.5L819.0 124.7L819.4 120.2L819.8 119.4L820.2 111.3L820.6 110.7L821.1 99.1L821.5 107.8L821.9 118.2L822.3 120.1L822.7 114.6L823.1 120.6L823.5 120.6L823.9 118.7L824.4 112.3L824.8 125.6L825.2 125.7L825.6 116.6L826.0 138.7L826.4 118.8L826.8 114.7L827.3 116.3L827.7 99.2L828.1 116.3L828.5 110.9L828.9 123.3L829.3 119.5L829.7 111.6L830.2 120.9L830.6 110.0L831.0 118.8L831.4 120.4L831.8 118.9L832.2 107.0L832.6 117.7L833.0 117.2L833.5 118.2L833.9 124.8L834.3 125.5L834.7 125.0L835.1 115.1L835.5 114.5L835.9 118.1L836.4 120.3L836.8 109.1L837.2 116.0L837.6 126.8L838.0 113.3L838.4 115.8L838.8 112.1L839.2 121.6L839.7 118.8L840.1 116.3L840.5 112.4L840.9 122.6L841.3 119.8L841.7 116.9L842.1 120.1L842.6 123.5L843.0 113.1L843.4 113.2L843.8 110.0L844.2 116.2L844.6 106.6L845.0 117.8L845.5 126.1L845.9 119.5L846.3 125.6L846.7 107.2L847.1 119.8L847.5 126.2L847.9 127.4L848.3 117.5L848.8 116.3L849.2 121.7L849.6 114.5L850.0 118.7L850.4 113.0L850.8 120.7L851.2 120.3L851.7 127.4L852.1 121.1L852.5 116.4L852.9 118.9L853.3 113.3L853.7 119.1L854.1 118.1L854.5 120.8L855.0 122.8L855.4 109.5L855.8 120.1L856.2 122.2L856.6 106.8L857.0 128.0L857.4 116.2L857.9 131.3L858.3 123.5L858.7 124.1L859.1 120.5L859.5 124.3L859.9 114.6L860.3 116.0L860.7 110.3L861.2 121.9L861.6 116.2L862.0 123.1L862.4 122.7L862.8 113.6L863.2 122.8L863.6 120.9L864.1 120.7L864.5 121.7L864.9 119.2L865.3 119.5L865.7 124.4L866.1 114.7L866.5 113.3L867.0 115.0L867.4 123.5L867.8 115.1L868.2 127.2L868.6 104.5L869.0 115.9L869.4 117.2L869.8 120.2L870.3 125.2L870.7 117.9L871.1 114.2L871.5 122.7L871.9 125.8L872.3 107.0L872.7 121.5L873.2 120.4L873.6 115.6L874.0 117.4L874.4 121.0L874.8 120.0L875.2 118.9L875.6 114.4L876.0 121.1L876.5 116.9L876.9 120.7L877.3 117.9L877.7 121.2L878.1 123.7L878.5 122.8L878.9 123.2L879.4 113.5L879.8 122.1L880.2 121.1L880.6 116.9L881.0 118.8L881.4 106.6L881.8 119.7L882.3 117.6L882.7 109.2L883.1 121.7L883.5 116.4L883.9 120.5L884.3 118.4L884.7 121.5L885.1 119.6L885.6 117.9L886.0 122.0L886.4 123.6L886.8 109.3L887.2 119.9L887.6 116.7L888.0 114.1L888.5 125.4L888.9 123.8L889.3 114.3L889.7 114.1L890.1 122.9L890.5 116.5L890.9 117.8L891.3 110.1L891.8 118.4L892.2 124.5L892.6 116.9L893.0 118.5L893.4 127.4L893.8 123.1L894.2 125.6L894.7 121.8L895.1 124.6L895.5 111.7L895.9 115.6L896.3 111.5L896.7 129.2L897.1 119.9L897.5 118.0L898.0 115.7L898.4 114.6L898.8 105.8L899.2 129.0L899.6 118.5L900.0 119.1L900.4 112.4L900.9 118.2L901.3 120.6L901.7 118.6L902.1 122.0L902.5 115.4L902.9 121.1L903.3 123.3L903.8 121.7L904.2 121.2L904.6 118.8L905.0 114.3L905.4 121.3L905.8 116.9L906.2 114.3L906.6 122.2L907.1 111.3L907.5 116.1L907.9 122.3L908.3 128.0L908.7 117.0L909.1 119.3L909.5 121.7L910.0 118.6L910.4 115.5L910.8 121.2L911.2 120.2L911.6 120.0L912.0 124.5L912.4 120.6L912.8 117.1L913.3 119.7L913.7 128.0L914.1 115.9L914.5 117.7L914.9 115.1L915.3 120.4L915.7 112.9L916.2 120.5L916.6 126.2L917.0 115.3L917.4 115.2L917.8 112.2L918.2 119.6L918.6 114.2L919.1 116.5L919.5 117.6L919.9 116.3L920.3 123.6L920.7 127.0L921.1 109.4L921.5 115.2L921.9 120.1L922.4 108.4L922.8 116.7L923.2 120.2L923.6 125.3L924.0 124.4L924.4 117.5L924.8 119.3L925.3 117.0L925.7 118.0L926.1 113.8L926.5 111.2L926.9 117.4L927.3 123.2L927.7 122.1L928.1 109.7L928.6 117.0L929.0 114.8L929.4 118.8L929.8 111.9L930.2 120.9L930.6 115.5L931.0 119.0L931.5 120.5L931.9 107.7L932.3 115.7L932.7 123.6L933.1 116.9L933.5 121.6L933.9 119.1L934.4 111.9L934.8 118.2L935.2 121.9L935.6 123.1L936.0 124.0L936.4 112.0L936.8 121.0L937.2 111.0L937.7 117.0L938.1 116.8L938.5 120.9L938.9 119.7L939.3 130.7L939.7 115.7L940.1 122.9L940.6 121.0L941.0 119.1L941.4 114.1L941.8 125.5L942.2 120.9L942.6 123.4L943.0 119.5L943.4 118.2L943.9 121.2L944.3 121.2L944.7 122.5L945.1 128.2L945.5 117.0L945.9 128.9L946.3 106.3L946.8 124.4L947.2 116.3L947.6 129.2L948.0 115.9L948.4 124.8L948.8 115.6L949.2 114.7L949.6 124.2L950.1 124.3L950.5 116.9L950.9 130.9L951.3 118.6L951.7 127.1L952.1 115.3L952.5 115.7L953.0 120.4L953.4 115.4L953.8 122.3L954.2 110.2L954.6 121.2L955.0 117.7L955.4 115.9L955.9 120.9L956.3 119.1L956.7 117.8L957.1 123.4L957.5 120.9L957.9 121.2L958.3 125.3L958.7 118.8L959.2 123.1L959.6 117.3L960.0 122.0L960.4 121.6L960.8 116.6L961.2 112.0L961.6 112.9L962.1 114.3L962.5 121.2L962.9 117.6L963.3 116.7L963.7 120.2L964.1 121.3L964.5 124.4L964.9 115.4L965.4 120.5L965.8 121.2L966.2 113.7L966.6 118.5L967.0 113.7L967.4 116.9L967.8 119.6L968.3 110.1L968.7 114.0L969.1 114.0L969.5 118.3L969.9 114.4L970.3 119.4L970.7 114.1L971.2 115.7L971.6 121.4L972.0 120.7L972.4 119.9L972.8 118.7L973.2 123.9L973.6 133.2L974.0 117.7L974.5 116.3L974.9 114.8L975.3 127.3L975.7 115.3L976.1 113.4L976.5 120.6L976.9 124.3L977.4 113.8L977.8 118.8L978.2 112.9L978.6 116.2L979.0 126.8L979.4 121.4L979.8 118.2L980.2 119.6L980.7 120.5L981.1 118.4L981.5 113.7L981.9 113.7L982.3 128.2L982.7 115.4L983.1 124.8L983.6 115.6L984.0 125.0L984.4 122.4L984.8 118.1L985.2 128.4L985.6 114.7L986.0 117.9L986.5 110.4L986.9 115.4L987.3 117.5L987.7 115.0L988.1 118.4L988.5 135.7L988.9 111.9L989.3 114.1L989.8 115.3L990.2 117.5L990.6 124.4L991.0 122.9L991.4 121.7L991.8 120.2L992.2 129.9L992.7 113.4L993.1 113.3L993.5 118.3L993.9 119.7L994.3 117.6L994.7 115.0L995.1 112.9L995.5 117.6L996.0 115.5L996.4 116.4L996.8 113.4L997.2 132.1L997.6 120.4L998.0 126.9L998.4 116.0L998.9 118.6L999.3 117.3L999.7 118.3L1000.1 116.9L1000.5 117.2L1000.9 109.2L1001.3 117.1L1001.8 125.2L1002.2 109.7L1002.6 115.4L1003.0 121.7L1003.4 125.0L1003.8 118.3L1004.2 121.2L1004.6 127.0L1005.1 124.5L1005.5 116.6L1005.9 115.8L1006.3 123.0L1006.7 119.6L1007.1 115.9L1007.5 117.6L1008.0 120.3L1008.4 118.0L1008.8 117.7L1009.2 118.0L1009.6 112.2L1010.0 127.0L1010.4 124.8L1010.8 126.1L1011.3 118.6L1011.7 119.7L1012.1 122.1L1012.5 123.0L1012.9 110.9L1013.3 120.5L1013.7 114.4L1014.2 118.7L1014.6 116.0L1015.0 126.7L1015.4 121.7L1015.8 119.1L1016.2 125.4L1016.6 119.1L1017.0 115.9L1017.5 118.7L1017.9 117.8L1018.3 119.6L1018.7 123.1L1019.1 118.5L1019.5 118.6L1019.9 123.8L1020.4 120.8L1020.8 123.8L1021.2 120.1L1021.6 113.6L1022.0 114.9L1022.4 112.2L1022.8 125.1L1023.3 121.7L1023.7 117.7L1024.1 115.5L1024.5 121.5L1024.9 119.1L1025.3 121.3L1025.7 115.8L1026.1 114.3L1026.6 126.6L1027.0 115.2L1027.4 119.8L1027.8 126.1L1028.2 111.3L1028.6 122.9L1029.0 120.0L1029.5 119.3L1029.9 121.3L1030.3 114.3L1030.7 109.3L1031.1 127.9L1031.5 117.9L1031.9 123.2L1032.3 123.7L1032.8 119.7L1033.2 120.6L1033.6 121.9L1034.0 125.7L1034.4 120.3L1034.8 123.7L1035.2 116.7L1035.7 114.1L1036.1 118.7L1036.5 120.3L1036.9 121.2L1037.3 127.6L1037.7 122.7L1038.1 119.0L1038.6 128.0L1039.0 120.4L1039.4 120.4L1039.8 120.6L1040.2 116.8L1040.6 113.3L1041.0 118.9L1041.4 117.1L1041.9 114.6L1042.3 119.1L1042.7 117.6L1043.1 116.2L1043.5 110.5L1043.9 118.0L1044.3 126.9L1044.8 122.9L1045.2 124.0L1045.6 119.1L1046.0 123.7L1046.4 116.1L1046.8 117.2L1047.2 121.8L1047.6 112.8L1048.1 119.3L1048.5 120.1L1048.9 126.3L1049.3 115.5L1049.7 120.8L1050.1 115.9L1050.5 116.2L1051.0 106.3L1051.4 114.5L1051.8 123.6L1052.2 120.6L1052.6 119.5L1053.0 130.1L1053.4 121.0L1053.8 112.9L1054.3 117.6L1054.7 118.5L1055.1 126.2L1055.5 114.7L1055.9 120.7L1056.3 123.3L1056.7 115.2L1057.2 119.2L1057.6 109.4L1058.0 119.3L1058.4 108.8L1058.8 117.4L1059.2 126.8L1059.6 120.8L1060.1 118.9L1060.5 119.4L1060.9 128.7L1061.3 121.8L1061.7 124.2L1062.1 118.1L1062.5 118.3L1062.9 115.4L1063.4 119.3L1063.8 113.6L1064.2 124.9L1064.6 127.0L1065.0 119.8L1065.4 118.1L1065.8 107.4L1066.3 117.9L1066.7 122.0L1067.1 123.1L1067.5 105.9L1067.9 109.0L1068.3 120.4L1068.7 114.8L1069.1 118.2L1069.6 117.0L1070.0 121.8L1070.4 110.8L1070.8 116.6L1071.2 123.2L1071.6 119.7L1072.0 114.7L1072.5 120.4L1072.9 119.6L1073.3 114.1L1073.7 121.1L1074.1 120.8L1074.5 117.3L1074.9 122.0L1075.4 112.4L1075.8 121.0L1076.2 116.6L1076.6 113.0L1077.0 114.7L1077.4 123.5L1077.8 115.8L1078.2 116.9L1078.7 115.5L1079.1 115.5L1079.5 123.7L1079.9 129.7L1080.3 125.8L1080.7 122.3L1081.1 123.8L1081.6 118.8L1082.0 118.1L1082.4 115.1L1082.8 126.5L1083.2 118.3L1083.6 116.5L1084.0 116.8L1084.4 120.6L1084.9 116.9L1085.3 119.5L1085.7 120.5L1086.1 125.9L1086.5 114.3L1086.9 121.3L1087.3 116.6L1087.8 117.5L1088.2 126.9L1088.6 122.6L1089.0 117.9L1089.4 121.9L1089.8 119.5L1090.2 124.4L1090.7 116.9L1091.1 121.1L1091.5 117.7L1091.9 119.0L1092.3 118.5L1092.7 116.3L1093.1 120.0L1093.5 124.3L1094.0 117.2L1094.4 118.2L1094.8 121.6L1095.2 116.9L1095.6 124.3L1096.0 123.6L1096.4 109.8L1096.9 117.3L1097.3 115.6L1097.7 124.3L1098.1 124.7L1098.5 114.8L1098.9 116.8L1099.3 119.9L1099.7 118.4L1100.2 123.3L1100.6 129.9L1101.0 123.0L1101.4 125.3L1101.8 124.4L1102.2 119.6L1102.6 117.7L1103.1 116.1L1103.5 123.3L1103.9 123.1L1104.3 123.6L1104.7 117.3L1105.1 116.9L1105.5 119.9L1106.0 124.4L1106.4 120.3L1106.8 119.9L1107.2 114.8L1107.6 120.4L1108.0 120.6L1108.4 113.7L1108.8 126.0L1109.3 113.8L1109.7 122.0L1110.1 116.7L1110.5 118.7L1110.9 114.5L1111.3 115.7L1111.7 121.3L1112.2 117.6L1112.6 117.1L1113.0 127.9L1113.4 122.3L1113.8 119.7L1114.2 120.3L1114.6 127.2L1115.0 118.9L1115.5 121.4L1115.9 121.6L1116.3 113.3L1116.7 110.8L1117.1 120.1L1117.5 123.7L1117.9 121.5L1118.4 117.2L1118.8 116.7L1119.2 123.8L1119.6 118.8L1120.0 112.9L1120.4 123.6L1120.8 121.6L1121.2 124.4L1121.7 125.1L1122.1 126.2L1122.5 122.5L1122.9 119.0L1123.3 109.8L1123.7 122.8L1124.1 119.1L1124.6 125.7L1125.0 125.5L1125.4 121.8L1125.8 125.9L1126.2 119.2L1126.6 119.4L1127.0 115.9L1127.5 118.2L1127.9 120.7L1128.3 130.6L1128.7 116.8L1129.1 123.8L1129.5 130.4L1129.9 113.7L1130.3 118.5L1130.8 119.8L1131.2 123.7L1131.6 128.1L1132.0 124.6" stroke="#1f77b4" stroke-opacity="0.66" stroke-width="1" stroke-dasharray="4 2" shape-rendering="crispEdges"/>
<path d="M90.0 352.7L90.4 355.7L90.8 356.0L91.2 356.6L91.7 355.3L92.1 355.0L92.5 350.9L92.9 352.9L93.3 351.4L93.7 354.8L94.1 353.2L94.5 353.9L95.0 355.4L95.4 353.3L95.8 357.3L96.2 357.2L96.6 351.5L97.0 358.1L97.4 353.1L97.9 352.3L98.3 353.2L98.7 350.3L99.1 354.9L99.5 357.4L99.9 349.7L100.3 354.8L100.8 355.6L101.2 355.8L101.6 355.6L102.0 355.1L102.4 351.9L102.8 356.3L103.2 354.5L103.6 355.8L104.1 354.3L104.5 352.7L104.9 353.3L105.3 355.1L105.7 356.4L106.1 348.1L106.5 349.9L107.0 348.7L107.4 351.9L107.8 351.5L108.2 354.1L108.6 352.6L109.0 357.2L109.4 351.5L109.8 351.2L110.3 351.0L110.7 352.8L111.1 354.0L111.5 352.1L111.9 350.8L112.3 349.6L112.7 354.4L113.2 352.1L113.6 350.9L114.0 353.0L114.4 355.2L114.8 360.1L115.2 358.7L115.6 351.8L116.0 352.6L116.5 348.1L116.9 348.4L117.3 348.6L117.7 356.3L118.1 353.2L118.5 349.5L118.9 352.1L119.4 352.7L119.8 352.4L120.2 358.5L120.6 348.8L121.0 352.8L121.4 354.8L121.8 355.4L122.3 348.0L122.7 354.3L123.1 345.8L123.5 352.3L123.9 349.7L124.3 355.9L124.7 362.5L125.1 356.4L125.6 352.9L126.0 348.7L126.4 356.7L126.8 357.9L127.2 351.3L127.6 357.6L128.0 350.0L128.5 351.8L128.9 355.7L129.3 351.0L129.7 357.1L130.1 359.2L130.5 355.4L130.9 356.5L131.3 359.8L131.8 356.7L132.2 358.7L132.6 358.8L133.0 352.1L133.4 361.4L133.8 358.4L134.2 355.1L134.7 357.4L135.1 356.1L135.5 355.8L135.9 351.9L136.3 353.6L136.7 353.5L137.1 357.3L137.6 356.9L138.0 355.1L138.4 353.1L138.8 357.4L139.2 346.7L139.6 351.3L140.0 356.9L140.4 353.1L140.9 355.8L141.3 358.6L141.7 356.3L142.1 349.9L142.5 353.6L142.9 350.9L143.3 355.4L143.8 356.8L144.2 353.2L144.6 355.4L145.0 353.2L145.4 358.7L145.8 353.9L146.2 354.5L146.6 355.2L147.1 356.7L147.5 355.9L147.9 353.8L148.3 353.8L148.7 355.1L149.1 355.1L149.5 352.4L150.0 351.5L150.4 352.3L150.8 354.0L151.2 351.6L151.6 349.8L152.0 351.9L152.4 351.2L152.9 354.0L153.3 351.4L153.7 351.6L154.1 358.2L154.5 355.8L154.9 350.5L155.3 356.9L155.7 352.6L156.2 350.8L156.6 354.9L157.0 349.1L157.4 352.7L157.8 354.3L158.2 355.1L158.6 351.8L159.1 351.8L159.5 352.8L159.9 356.5L160.3 348.3L160.7 355.6L161.1 354.2L161.5 357.3L161.9 350.1L162.4 356.7L162.8 351.0L163.2 354.8L163.6 352.7L164.0 346.9L164.4 353.7L164.8 355.3L165.3 356.4L165.7 352.1L166.1 350.6L166.5 356.3L166.9 353.5L167.3 357.4L167.7 358.7L168.2 353.1L168.6 354.4L169.0 352.5L169.4 349.0L169.8 355.0L170.2 357.1L170.6 357.8L171.0 355.0L171.5 360.2L171.9 353.4L172.3 355.1L172.7 353.5L173.1 352.2L173.5 353.8L173.9 352.5L174.4 353.2L174.8 355.3L175.2 354.6L175.6 351.3L176.0 355.8L176.4 352.3L176.8 355.8L177.2 354.4L177.7 349.3L178.1 351.7L178.5 357.6L178.9 353.1L179.3 353.0L179.7 353.5L180.1 355.3L180.6 356.1L181.0 353.8L181.4 359.3L181.8 352.8L182.2 353.0L182.6 353.7L183.0 355.6L183.4 358.7L183.9 361.4L184.3 353.7L184.7 354.0L185.1 356.1L185.5 353.7L185.9 356.6L186.3 350.7L186.8 355.8L187.2 339.8L187.6 354.8L188.0 354.6L188.4 359.8L188.8 349.8L189.2 354.0L189.7 354.1L190.1 346.1L190.5 352.8L190.9 349.8L191.3 348.7L191.7 347.9L192.1 351.6L192.5 349.3L193.0 346.2L193.4 352.5L193.8 346.6L194.2 353.5L194.6 352.1L195.0 349.2L195.4 347.2L195.9 349.3L196.3 348.1L196.7 349.8L197.1 351.4L197.5 359.8L197.9 340.0L198.3 351.5L198.7 356.9L199.2 356.2L199.6 357.3L200.0 350.6L200.4 355.9L200.8 345.4L201.2 353.0L201.6 356.3L202.1 355.7L202.5 349.6L202.9 351.4L203.3 347.9L203.7 352.3L204.1 345.8L204.5 355.4L205.0 352.7L205.4 356.8L205.8 354.9L206.2 354.3L206.6 360.2L207.0 358.6L207.4 351.3L207.8 358.9L208.3 359.5L208.7 358.7L209.1 355.9L209.5 349.6L209.9 353.8L210.3 348.0L210.7 351.0L211.2 353.0L211.6 358.4L212.0 354.8L212.4 355.4L212.8 357.0L213.2 351.9L213.6 357.3L214.0 354.7L214.5 351.2L214.9 352.2L215.3 352.9L215.7 355.3L216.1 357.5L216.5 352.5L216.9 353.1L217.4 359.0L217.8 363.0L218.2 359.0L218.6 354.4L219.0 352.7L219.4 355.5L219.8 354.5L220.2 350.7L220.7 357.0L221.1 360.3L221.5 350.7L221.9 351.0L222.3 351.7L222.7 349.5L223.1 355.2L223.6 348.7L224.0 355.0L224.4 354.6L224.8 355.7L225.2 349.5L225.6 354.3L226.0 354.6L226.5 356.7L226.9 355.2L227.3 352.6L227.7 357.4L228.1 357.9L228.5 357.9L228.9 348.7L229.3 355.3L229.8 351.3L230.2 353.5L230.6 356.5L231.0 350.0L231.4 362.6L231.8 357.8L232.2 351.9L232.7 350.7L233.1 354.1L233.5 354.1L233.9 351.1L234.3 354.3L234.7 349.8L235.1 352.4L235.5 359.5L236.0 354.4L236.4 353.1L236.8 358.6L237.2 355.0L237.6 355.4L238.0 349.8L238.4 356.6L238.9 352.4L239.3 356.0L239.7 355.1L240.1 358.1L240.5 355.7L240.9 352.9L241.3 349.8L241.8 351.9L242.2 350.6L242.6 357.3L243.0 351.3L243.4 346.0L243.8 354.2L244.2 355.4L244.6 350.4L245.1 355.3L245.5 349.2L245.9 354.0L246.3 352.7L246.7 355.4L247.1 354.7L247.5 351.0L248.0 355.5L248.4 351.7L248.8 353.9L249.2 357.9L249.6 351.2L250.0 354.5L250.4 359.0L250.8 358.3L251.3 352.3L251.7 352.4L252.1 355.8L252.5 350.1L252.9 354.8L253.3 350.9L253.7 356.8L254.2 350.2L254.6 355.4L255.0 357.0L255.4 352.8L255.8 350.1L256.2 351.0L256.6 349.1L257.1 360.1L257.5 349.0L257.9 351.4L258.3 356.2L258.7 355.4L259.1 358.2L259.5 359.1L259.9 356.5L260.4 355.1L260.8 353.6L261.2 354.5L261.6 358.2L262.0 357.7L262.4 357.6L262.8 350.7L263.3 353.0L263.7 352.7L264.1 352.9L264.5 351.2L264.9 356.2L265.3 361.2L265.7 359.8L266.1 352.8L266.6 354.0L267.0 354.8L267.4 353.9L267.8 351.6L268.2 359.4L268.6 348.1L269.0 352.9L269.5 348.6L269.9 356.1L270.3 350.0L270.7 350.1L271.1 353.5L271.5 350.4L271.9 353.9L272.4 351.9L272.8 359.4L273.2 345.6L273.6 351.5L274.0 355.9L274.4 354.9L274.8 355.8L275.2 353.7L275.7 357.3L276.1 355.5L276.5 358.2L276.9 350.1L277.3 354.7L277.7 353.6L278.1 355.6L278.6 347.5L279.0 356.2L279.4 349.7L279.8 356.3L280.2 355.5L280.6 348.6L281.0 355.7L281.4 348.7L281.9 356.1L282.3 349.5L282.7 353.7L283.1 352.9L283.5 348.8L283.9 348.0L284.3 355.1L284.8 351.9L285.2 356.8L285.6 353.3L286.0 361.6L286.4 353.9L286.8 358.7L287.2 354.7L287.6 354.2L288.1 355.3L288.5 351.4L288.9 352.0L289.3 359.0L289.7 353.4L290.1 350.9L290.5 355.7L291.0 351.3L291.4 353.8L291.8 357.0L292.2 357.7L292.6 359.3L293.0 357.6L293.4 355.8L293.9 355.6L294.3 354.4L294.7 353.3L295.1 360.3L295.5 353.2L295.9 358.5L296.3 353.5L296.7 357.5L297.2 345.5L297.6 354.2L298.0 351.8L298.4 358.5L298.8 358.3L299.2 351.9L299.6 353.2L300.1 359.6L300.5 354.0L300.9 353.3L301.3 355.9L301.7 349.3L302.1 358.3L302.5 356.7L302.9 344.9L303.4 350.9L303.8 353.5L304.2 360.3L304.6 354.1L305.0 349.2L305.4 357.8L305.8 355.0L306.3 353.8L306.7 360.6L307.1 352.4L307.5 353.5L307.9 356.8L308.3 355.4L308.7 357.0L309.2 352.8L309.6 365.5L310.0 349.7L310.4 350.0L310.8 355.6L311.2 353.2L311.6 354.7L312.0 354.3L312.5 353.5L312.9 350.6L313.3 354.8L313.7 357.9L314.1 351.7L314.5 367.3L314.9 359.0L315.4 351.9L315.8 360.3L316.2 351.2L316.6 354.0L317.0 351.3L317.4 352.5L317.8 348.3L318.2 353.2L318.7 350.4L319.1 350.6L319.5 347.6L319.9 354.1L320.3 359.7L320.7 352.8L321.1 353.7L321.6 350.8L322.0 352.8L322.4 351.7L322.8 349.3L323.2 351.2L323.6 352.0L324.0 354.3L324.4 351.8L324.9 353.8L325.3 357.0L325.7 355.8L326.1 351.7L326.5 347.4L326.9 352.3L327.3 353.0L327.8 356.2L328.2 353.7L328.6 361.9L329.0 352.1L329.4 355.2L329.8 350.5L330.2 349.9L330.7 352.3L331.1 353.7L331.5 354.8L331.9 343.3L332.3 356.1L332.7 356.9L333.1 357.0L333.5 355.8L334.0 353.0L334.4 355.2L334.8 357.9L335.2 350.8L335.6 355.7L336.0 355.3L336.4 353.2L336.9 359.6L337.3 352.0L337.7 351.4L338.1 354.3L338.5 352.4L338.9 358.3L339.3 349.5L339.7 350.7L340.2 355.4L340.6 356.9L341.0 350.8L341.4 358.7L341.8 349.3L342.2 358.2L342.6 352.8L343.1 354.4L343.5 361.1L343.9 355.5L344.3 353.9L344.7 357.6L345.1 361.1L345.5 355.6L346.0 353.0L346.4 356.9L346.8 351.8L347.2 353.5L347.6 354.0L348.0 357.4L348.4 353.6L348.8 356.4L349.3 358.4L349.7 359.7L350.1 350.0L350.5 354.8L350.9 351.3L351.3 356.8L351.7 355.4L352.2 354.2L352.6 352.8L353.0 351.6L353.4 349.2L353.8 357.0L354.2 353.3L354.6 353.9L355.0 355.0L355.5 356.6L355.9 360.1L356.3 354.0L356.7 356.4L357.1 349.1L357.5 352.5L357.9 351.4L358.4 349.8L358.8 362.0L359.2 354.5L359.6 354.4L360.0 354.4L360.4 353.3L360.8 353.5L361.3 352.0L361.7 352.2L362.1 352.6L362.5 353.1L362.9 347.9L363.3 353.6L363.7 353.3L364.1 354.7L364.6 350.1L365.0 350.9L365.4 355.9L365.8 351.4L366.2 354.9L366.6 351.3L367.0 349.5L367.5 349.1L367.9 351.6L368.3 351.8L368.7 349.2L369.1 357.1L369.5 353.1L369.9 350.4L370.3 357.6L370.8 355.7L371.2 350.9L371.6 350.0L372.0 352.8L372.4 355.7L372.8 349.8L373.2 357.2L373.7 352.7L374.1 356.0L374.5 353.0L374.9 355.1L375.3 355.5L375.7 357.6L376.1 351.7L376.6 359.5L377.0 350.3L377.4 355.1L377.8 355.9L378.2 354.2L378.6 357.0L379.0 349.8L379.4 354.0L379.9 357.3L380.3 354.3L380.7 351.2L381.1 355.1L381.5 355.0L381.9 351.7L382.3 358.5L382.8 352.8L383.2 351.1L383.6 354.6L384.0 352.4L384.4 354.1L384.8 355.5L385.2 353.7L385.6 356.7L386.1 355.8L386.5 358.2L386.9 348.2L387.3 354.6L387.7 355.4L388.1 355.6L388.5 348.5L389.0 351.4L389.4 355.6L389.8 356.6L390.2 355.1L390.6 355.5L391.0 358.3L391.4 353.3L391.8 352.6L392.3 359.5L392.7 356.7L393.1 354.2L393.5 352.9L393.9 359.8L394.3 354.0L394.7 352.0L395.2 358.3L395.6 350.0L396.0 353.7L396.4 355.9L396.8 353.3L397.2 352.7L397.6 355.6L398.1 350.6L398.5 353.4L398.9 356.3L399.3 350.8L399.7 358.1L400.1 353.5L400.5 353.5L400.9 352.5L401.4 355.8L401.8 352.9L402.2 354.4L402.6 357.1L403.0 357.2L403.4 349.6L403.8 358.0L404.3 352.5L404.7 355.1L405.1 354.8L405.5 355.2L405.9 352.7L406.3 355.8L406.7 357.2L407.1 352.6L407.6 354.5L408.0 356.5L408.4 357.1L408.8 355.0L409.2 354.7L409.6 355.7L410.0 353.3L410.5 356.4L410.9 353.1L411.3 352.8L411.7 346.9L412.1 348.4L412.5 354.9L412.9 356.2L413.4 355.3L413.8 354.9L414.2 353.0L414.6 355.5L415.0 352.5L415.4 353.6L415.8 358.1L416.2 345.0L416.7 352.3L417.1 353.2L417.5 348.3L417.9 350.6L418.3 357.4L418.7 355.8L419.1 353.8L419.6 357.7L420.0 350.7L420.4 359.0L420.8 353.7L421.2 352.2L421.6 357.1L422.0 355.3L422.4 354.6L422.9 353.8L423.3 348.9L423.7 340.8L424.1 353.7L424.5 356.4L424.9 351.2L425.3 354.2L425.8 349.6L426.2 349.7L426.6 353.8L427.0 356.1L427.4 356.2L427.8 357.3L428.2 351.4L428.6 353.3L429.1 356.5L429.5 351.4L429.9 353.8L430.3 355.0L430.7 354.8L431.1 357.1L431.5 355.8L432.0 353.5L432.4 347.9L432.8 357.1L433.2 357.8L433.6 356.4L434.0 355.9L434.4 356.1L434.9 358.8L435.3 353.7L435.7 354.8L436.1 352.0L436.5 354.3L436.9 352.7L437.3 352.8L437.7 349.4L438.2 355.0L438.6 358.1L439.0 345.9L439.4 358.4L439.8 354.3L440.2 352.3L440.6 355.3L441.1 353.7L441.5 354.4L441.9 359.0L442.3 354.9L443.5 352.0L443.5 450.0L446.5 450.0L446.5 297.0L447.3 302.8L447.7 309.1L448.1 288.7L448.5 300.7L448.9 286.2L449.3 292.6L449.7 295.5L450.2 293.3L450.6 287.7L451.0 289.9L451.4 296.7L451.8 289.0L452.2 298.3L452.6 300.3L453.0 300.8L453.5 296.7L453.9 295.5L454.3 294.1L454.7 306.2L455.1 300.5L455.5 298.4L455.9 297.5L456.4 300.5L456.8 288.8L457.2 299.7L457.6 294.3L458.0 287.7L458.4 300.9L458.8 294.0L459.2 298.6L459.7 293.9L460.1 295.4L460.5 302.8L460.9 297.9L461.3 298.3L461.7 291.0L462.1 300.7L462.6 294.4L463.0 298.8L463.4 288.5L463.8 298.1L464.2 298.9L464.6 291.0L465.0 298.1L465.5 293.5L465.9 301.7L466.3 298.2L466.7 297.0L467.1 308.7L467.5 299.9L467.9 295.8L468.3 300.7L468.8 298.1L469.2 302.3L469.6 293.3L470.0 304.8L470.4 295.1L470.8 295.8L471.2 294.5L471.7 296.0L472.1 304.2L472.5 297.3L472.9 292.6L473.3 296.3L473.7 298.0L474.1 301.0L474.5 296.0L475.0 299.2L475.4 308.3L475.8 296.5L476.2 297.9L476.6 293.2L477.0 301.3L477.4 295.8L477.9 304.8L478.3 302.3L478.7 300.6L479.1 295.7L479.5 296.3L479.9 295.7L480.3 297.0L480.8 295.3L481.2 294.7L481.6 297.3L482.0 297.0L482.4 295.9L482.8 300.9L483.2 301.2L483.6 295.0L484.1 305.5L484.5 298.9L484.9 302.2L485.3 304.5L485.7 292.0L486.1 299.4L486.5 300.7L487.0 301.6L487.4 300.3L487.8 301.0L488.2 291.4L488.6 293.1L489.0 299.2L489.4 289.5L489.8 295.3L490.3 296.9L490.7 299.5L491.1 301.6L491.5 298.9L491.9 291.3L492.3 294.5L492.7 299.8L493.2 300.3L493.6 299.6L494.0 298.3L494.4 298.2L494.8 285.8L495.2 297.5L495.6 300.2L496.0 292.9L496.5 298.8L496.9 299.4L497.3 316.7L497.7 296.2L498.1 295.5L498.5 291.7L498.9 292.3L499.4 290.0L499.8 288.8L500.2 298.3L500.6 295.6L501.0 296.9L501.4 289.5L501.8 288.1L502.3 288.9L502.7 309.5L503.1 299.7L503.5 284.1L503.9 296.1L504.3 296.5L504.7 291.6L505.1 293.0L505.6 298.0L506.0 296.6L506.4 296.9L506.8 295.6L507.2 292.9L507.6 293.9L508.0 290.9L508.5 297.2L508.9 292.1L509.3 291.2L509.7 287.8L510.1 285.1L510.5 286.9L510.9 285.1L511.3 282.6L511.8 288.4L512.2 291.5L512.6 283.0L513.0 279.5L513.4 275.5L513.8 270.6L514.2 276.5L514.7 274.5L515.1 267.5L515.5 268.8L515.9 263.3L516.3 270.6L516.7 264.2L517.1 264.0L517.6 267.2L518.0 250.5L518.4 259.3L518.8 257.6L519.2 254.1L519.6 254.2L520.0 258.4L520.4 252.3L520.9 253.2L521.3 263.6L521.7 262.1L522.1 261.0L522.5 263.6L522.9 261.9L523.3 261.4L523.8 263.0L524.2 265.8L524.6 263.9L525.0 260.4L525.4 266.5L525.8 268.4L526.2 267.3L526.6 270.7L527.1 269.2L527.5 272.1L527.9 269.5L528.3 268.7L528.7 272.0L529.1 273.5L529.5 268.7L530.0 267.2L530.4 275.4L530.8 268.2L531.2 271.7L531.6 266.3L532.0 270.8L532.4 275.5L532.9 276.6L533.3 265.0L533.7 264.7L534.1 257.6L534.5 272.8L534.9 276.5L535.3 271.7L535.7 269.4L536.2 273.7L536.6 266.8L537.0 272.9L537.4 275.8L537.8 275.4L538.2 273.3L538.6 268.6L539.1 269.0L539.5 266.9L539.9 277.4L540.3 275.1L540.7 270.0L541.1 270.0L541.5 271.2L541.9 268.1L542.4 272.4L542.8 272.3L543.2 271.7L543.6 270.2L544.0 260.0L544.4 268.7L544.8 263.9L545.3 262.9L545.7 277.6L546.1 267.3L546.5 268.2L546.9 268.0L547.3 265.8L547.7 274.9L548.1 253.6L548.6 270.6L549.0 266.6L549.4 273.8L549.8 272.0L550.2 269.0L550.6 262.7L551.0 271.7L551.5 272.4L551.9 271.5L552.3 267.7L552.7 271.1L553.1 265.6L553.5 269.8L553.9 270.6L554.4 268.7L554.8 261.5L555.2 269.0L555.6 262.5L556.0 265.0L556.4 273.6L556.8 269.1L557.2 267.6L557.7 267.7L558.1 271.6L558.5 268.5L558.9 267.3L559.3 270.8L559.7 270.3L560.1 266.2L560.6 265.5L561.0 274.7L561.4 268.4L561.8 279.5L562.2 271.6L562.6 269.0L563.0 268.7L563.4 275.7L563.9 266.8L564.3 266.0L564.7 265.7L565.1 268.0L565.5 265.0L565.9 268.7L566.3 263.6L566.8 270.1L567.2 269.2L567.6 268.7L568.0 265.8L568.4 273.1L568.8 276.0L569.2 267.4L569.7 265.3L570.1 270.5L570.5 267.2L570.9 268.7L571.3 270.7L571.7 263.2L572.1 271.6L572.5 260.0L573.0 263.8L573.4 265.6L573.8 274.4L574.2 266.3L574.6 270.6L575.0 265.3L575.4 271.5L575.9 270.4L576.3 273.6L576.7 269.9L577.1 268.9L577.5 261.7L577.9 270.1L578.3 271.9L578.7 269.0L579.2 269.3L579.6 270.8L580.0 271.5L580.4 265.0L580.8 268.3L581.2 270.4L581.6 270.1L582.1 265.2L582.5 261.2L582.9 269.9L583.3 271.4L583.7 275.0L584.1 270.3L584.5 265.3L585.0 270.3L585.4 268.3L585.8 266.1L586.2 263.0L586.6 261.8L587.0 266.1L587.4 267.8L587.8 269.6L588.3 269.9L588.7 270.4L589.1 277.3L589.5 269.3L589.9 275.2L590.3 267.4L590.7 267.4L591.2 268.2L591.6 263.2L592.0 283.6L592.4 270.5L592.8 272.3L593.2 276.2L593.6 271.3L594.0 275.8L594.5 260.3L594.9 274.5L595.3 270.5L595.7 267.1L596.1 273.4L596.5 269.3L596.9 266.7L597.4 262.2L597.8 276.4L598.2 259.8L598.6 269.7L599.0 275.6L599.4 271.8L599.8 266.9L600.2 268.3L600.7 266.8L601.1 270.2L601.5 268.9L601.9 258.6L602.3 264.0L602.7 274.2L603.1 264.9L603.6 265.6L604.0 279.0L604.4 266.9L604.8 265.0L605.2 266.3L605.6 273.3L606.0 267.4L606.5 266.6L606.9 255.7L607.3 259.1L607.7 258.4L608.1 255.4L608.5 257.7L608.9 251.2L609.3 235.3L609.8 237.3L610.2 236.9L610.6 235.1L611.0 232.5L611.4 231.0L611.8 218.2L612.2 212.1L612.7 220.1L613.1 209.3L613.5 200.3L613.9 197.4L614.3 200.5L614.7 193.6L615.1 191.7L615.5 201.4L616.0 194.0L616.4 200.2L616.8 200.8L617.2 199.3L617.6 210.9L618.0 197.3L618.4 213.7L618.9 200.8L619.3 204.9L619.7 210.2L620.1 213.6L620.5 213.6L620.9 211.4L621.3 213.2L621.8 220.9L622.2 223.9L622.6 217.5L623.0 225.9L623.4 223.5L623.8 222.4L624.2 217.0L624.6 216.3L625.1 223.6L625.5 211.0L625.9 219.6L626.3 225.5L626.7 215.4L627.1 228.5L627.5 228.8L628.0 218.3L628.4 222.4L628.8 221.8L629.2 221.0L629.6 221.6L630.0 225.6L630.4 230.3L630.8 224.3L631.3 224.2L631.7 224.5L632.1 221.3L632.5 226.9L632.9 222.6L633.3 221.1L633.7 227.5L634.2 217.6L634.6 222.9L635.0 223.4L635.4 224.1L635.8 218.5L636.2 221.2L636.6 224.2L637.0 227.2L637.5 224.5L637.9 224.5L638.3 222.1L638.7 225.4L639.1 214.2L639.5 227.7L639.9 228.8L640.4 225.1L640.8 221.3L641.2 230.2L641.6 222.5L642.0 230.1L642.4 224.0L642.8 221.7L643.3 224.1L643.7 222.1L644.1 224.1L644.5 226.8L644.9 223.8L645.3 222.8L645.7 224.5L646.1 226.4L646.6 224.6L647.0 229.2L647.4 227.2L647.8 226.0L648.2 227.4L648.6 224.8L649.0 229.0L649.5 226.4L649.9 228.0L650.3 224.0L650.7 218.8L651.1 222.7L651.5 224.7L651.9 225.9L652.3 224.5L652.8 230.1L653.2 219.1L653.6 216.8L654.0 223.0L654.4 221.3L654.8 224.1L655.2 226.5L655.7 234.6L656.1 219.0L656.5 219.8L656.9 223.7L657.3 218.4L657.7 220.9L658.1 228.8L658.6 223.6L659.0 223.6L659.4 228.1L659.8 217.2L660.2 224.3L660.6 223.6L661.0 225.3L661.4 220.2L661.9 222.3L662.3 223.7L662.7 226.9L663.1 218.0L663.5 226.4L663.9 216.3L664.3 226.0L664.8 227.1L665.2 220.5L665.6 222.9L666.0 223.8L666.4 224.8L666.8 228.3L667.2 224.7L667.6 223.1L668.1 223.1L668.5 225.0L668.9 226.9L669.3 224.9L669.7 222.0L670.1 222.9L670.5 221.4L671.0 217.2L671.4 222.4L671.8 222.5L672.2 227.9L672.6 220.3L673.0 224.8L673.4 220.0L673.9 228.0L674.3 226.2L674.7 230.0L675.1 227.5L675.5 221.9L675.9 226.2L676.3 223.8L676.7 224.3L677.2 222.5L677.6 225.2L678.0 226.5L678.4 227.0L678.8 235.7L679.2 225.8L679.6 226.9L680.1 226.0L680.5 225.5L680.9 223.9L681.3 226.5L681.7 225.8L682.1 229.1L682.5 227.7L682.9 223.0L683.4 226.8L683.8 228.4L684.2 224.8L684.6 226.3L685.0 226.6L685.4 229.2L685.8 227.1L686.3 224.4L686.7 226.6L687.1 231.2L687.5 222.7L687.9 228.9L688.3 225.3L688.7 240.3L689.1 228.6L689.6 226.3L690.0 225.4L690.4 220.2L690.8 224.1L691.2 233.2L691.6 227.0L692.0 224.5L692.5 225.1L692.9 225.4L693.3 221.7L693.7 225.5L694.1 227.0L694.5 219.3L694.9 223.9L695.4 214.3L695.8 218.3L696.2 228.3L696.6 230.1L697.0 232.2L697.4 219.8L697.8 224.9L698.2 224.0L698.7 229.9L699.1 224.5L699.5 211.9L699.9 202.3L700.3 195.1L700.7 200.9L701.1 195.6L701.6 201.6L702.0 197.8L702.4 198.0L702.8 192.8L703.2 190.9L703.6 190.7L704.0 199.7L704.4 188.4L704.9 203.0L705.3 195.9L705.7 191.7L706.1 199.3L706.5 192.7L706.9 198.1L707.3 196.9L707.8 203.3L708.2 201.8L708.6 202.0L709.0 193.7L709.4 203.7L709.8 198.2L710.2 199.2L710.7 200.9L711.1 201.4L711.5 192.8L711.9 201.3L712.3 189.1L712.7 194.7L713.1 188.6L713.5 186.0L714.0 177.1L714.4 182.6L714.8 174.4L715.2 177.4L715.6 170.9L716.0 171.4L716.4 175.1L716.9 179.8L717.3 169.9L717.7 173.8L718.1 174.7L718.5 176.2L718.9 176.0L719.3 183.3L719.7 182.5L720.2 180.0L720.6 183.8L721.0 185.4L721.4 179.1L721.8 179.3L722.2 186.4L722.6 193.4L723.1 174.6L723.5 182.5L723.9 189.4L724.3 183.3L724.7 191.3L725.1 188.4L725.5 182.4L726.0 186.2L726.4 190.2L726.8 185.0L727.2 192.1L727.6 190.9L728.0 188.6L728.4 192.2L728.8 189.7L729.3 192.3L729.7 186.8L730.1 197.7L730.5 190.6L730.9 203.5L731.3 201.8L731.7 199.6L732.2 192.8L732.6 194.1L733.0 193.4L733.4 195.1L733.8 190.5L734.2 186.5L734.6 195.9L735.0 194.8L735.5 201.9L735.9 203.3L736.3 187.6L736.7 187.2L737.1 192.2L737.5 191.5L737.9 184.6L738.4 181.7L738.8 170.7L739.2 186.1L739.6 170.7L740.0 173.6L740.4 170.0L740.8 162.2L741.2 174.0L741.7 173.0L742.1 167.3L742.5 168.8L742.9 172.0L743.3 174.3L743.7 179.0L744.1 167.4L744.6 168.4L745.0 170.9L745.4 162.5L745.8 169.6L746.2 175.5L746.6 174.5L747.0 174.6L747.5 183.1L747.9 181.3L748.3 184.4L748.7 181.0L749.1 180.5L749.5 179.5L749.9 185.4L750.3 177.1L750.8 181.6L751.2 188.1L751.6 189.6L752.0 186.0L752.4 181.3L752.8 189.3L753.2 183.4L753.7 186.0L754.1 182.6L754.5 195.4L754.9 193.8L755.3 183.7L755.7 182.6L756.1 187.6L756.5 191.1L757.0 193.9L757.4 188.1L757.8 183.1L758.2 190.3L758.6 190.4L759.0 174.1L759.4 188.6L759.9 188.6L760.3 185.9L760.7 192.1L761.1 194.4L761.5 194.3L761.9 186.3L762.3 187.6L762.8 196.8L763.2 188.8L763.6 188.9L764.0 200.1L764.4 179.0L764.8 187.4L765.2 186.5L765.6 190.0L766.1 197.9L766.5 189.8L766.9 189.2L767.3 191.0L767.7 189.1L768.1 192.0L768.5 201.2L769.0 187.0L769.4 188.9L769.8 189.7L770.2 180.7L770.6 192.2L771.0 189.5L771.4 181.5L771.8 189.0L772.3 190.5L772.7 185.7L773.1 194.3L773.5 186.5L773.9 182.6L774.3 192.9L774.7 189.2L775.2 190.2L775.6 182.9L776.0 184.3L776.4 185.6L776.8 188.4L777.2 189.1L777.6 195.9L778.1 196.5L778.5 190.5L778.9 189.9L779.3 198.7L779.7 190.8L780.1 194.7L780.5 188.3L780.9 189.9L781.4 188.8L781.8 186.8L782.2 191.4L782.6 186.0L783.0 188.9L783.4 191.1L783.8 198.7L784.3 180.7L784.7 190.0L785.1 192.0L785.5 187.6L785.9 192.9L786.3 191.2L786.7 191.2L787.1 187.4L787.6 188.4L788.0 188.2L788.4 184.8L788.8 189.6L789.2 184.2L789.6 184.7L790.0 183.0L790.5 194.0L790.9 186.6L791.3 185.3L791.7 192.9L792.1 187.7L792.5 190.8L792.9 188.7L793.4 191.1L793.8 190.2L794.2 179.9L794.6 196.1L795.0 193.7L795.4 182.8L795.8 193.1L796.2 188.1L796.7 189.9L797.1 195.2L797.5 193.9L797.9 193.6L798.3 198.4L798.7 194.7L799.1 187.2L799.6 184.2L800.0 193.6L800.4 181.9L800.8 188.0L801.2 188.3L801.6 182.9L802.0 195.6L802.4 191.0L802.9 188.7L803.3 193.3L803.7 187.9L804.1 195.4L804.5 199.3L804.9 189.9L805.3 189.8L805.8 195.5L806.2 181.8L806.6 184.8L807.0 185.5L807.4 182.9L807.8 189.8L808.2 191.4L808.6 189.7L809.1 190.0L809.5 194.4L809.9 194.9L810.3 195.4L810.7 189.3L811.1 190.0L811.5 195.8L812.0 191.5L812.4 195.7L812.8 185.1L813.2 189.6L813.6 187.3L814.0 190.0L814.4 191.7L814.9 188.0L815.3 198.6L815.7 184.0L816.1 194.2L816.5 186.0L816.9 192.0L817.3 187.7L817.7 191.3L818.2 191.2L818.6 187.1L819.0 185.3L819.4 187.3L819.8 190.4L820.2 194.0L820.6 197.8L821.1 183.5L821.5 192.9L821.9 186.7L822.3 191.4L822.7 192.5L823.1 194.7L823.5 192.9L823.9 191.1L824.4 197.8L824.8 192.3L825.2 191.0L825.6 196.1L826.0 185.7L826.4 186.4L826.8 196.5L827.3 189.3L827.7 182.0L828.1 193.2L828.5 195.2L828.9 186.7L829.3 184.4L829.7 189.8L830.2 191.8L830.6 187.6L831.0 186.2L831.4 192.2L831.8 192.7L832.2 183.1L832.6 184.6L833.0 188.1L833.5 187.1L833.9 191.0L834.3 192.1L834.7 197.9L835.1 191.5L835.5 193.7L835.9 182.9L836.4 186.7L836.8 194.4L837.2 183.7L837.6 196.0L838.0 192.4L838.4 190.5L838.8 189.2L839.2 184.4L839.7 184.9L840.1 187.1L840.5 187.4L840.9 194.5L841.3 179.2L841.7 186.4L842.1 181.3L842.6 189.6L843.0 189.2L843.4 193.9L843.8 197.3L844.2 191.0L844.6 185.0L845.0 189.9L845.5 190.1L845.9 188.7L846.3 183.9L846.7 190.0L847.1 183.5L847.5 188.4L847.9 187.2L848.3 177.7L848.8 191.9L849.2 198.7L849.6 188.3L850.0 187.2L850.4 194.1L850.8 184.4L851.2 190.3L851.7 191.3L852.1 184.5L852.5 189.8L852.9 186.8L853.3 184.7L853.7 193.5L854.1 186.5L854.5 188.1L855.0 187.3L855.4 192.7L855.8 188.9L856.2 186.7L856.6 192.1L857.0 182.2L857.4 182.7L857.9 192.3L858.3 199.3L858.7 188.9L859.1 194.3L859.5 185.2L859.9 191.7L860.3 191.9L860.7 193.7L861.2 188.2L861.6 199.7L862.0 187.1L862.4 198.1L862.8 186.8L863.2 194.7L863.6 197.1L864.1 201.0L864.5 191.2L864.9 184.3L865.3 195.6L865.7 188.6L866.1 187.1L866.5 189.1L867.0 187.6L867.4 194.9L867.8 192.1L868.2 194.1L868.6 194.7L869.0 189.3L869.4 193.9L869.8 195.9L870.3 198.4L870.7 191.1L871.1 189.3L871.5 186.0L871.9 188.5L872.3 190.1L872.7 191.3L873.2 184.2L873.6 188.4L874.0 189.5L874.4 187.5L874.8 187.1L875.2 191.3L875.6 185.6L876.0 192.1L876.5 185.0L876.9 190.7L877.3 184.8L877.7 201.0L878.1 193.4L878.5 196.3L878.9 186.5L879.4 184.2L879.8 184.1L880.2 188.6L880.6 194.5L881.0 192.9L881.4 192.6L881.8 184.3L882.3 194.3L882.7 192.8L883.1 187.2L883.5 178.4L883.9 186.0L884.3 188.7L884.7 195.8L885.1 189.8L885.6 188.6L886.0 195.6L886.4 195.5L886.8 190.5L887.2 191.7L887.6 194.4L888.0 185.3L888.5 190.0L888.9 186.2L889.3 184.1L889.7 190.7L890.1 193.6L890.5 197.3L890.9 192.3L891.3 194.2L891.8 188.2L892.2 182.5L892.6 186.4L893.0 191.1L893.4 186.7L893.8 197.6L894.2 194.6L894.7 188.5L895.1 197.3L895.5 192.8L895.9 197.4L896.3 188.8L896.7 193.9L897.1 189.7L897.5 190.8L898.0 195.8L898.4 199.4L898.8 192.0L899.2 192.4L899.6 187.0L900.0 189.9L900.4 192.7L900.9 184.9L901.3 188.8L901.7 185.8L902.1 191.6L902.5 194.5L902.9 192.2L903.3 189.2L903.8 186.0L904.2 183.5L904.6 190.3L905.0 196.8L905.4 189.1L905.8 190.3L906.2 188.7L906.6 185.2L907.1 194.8L907.5 193.2L907.9 183.6L908.3 184.6L908.7 195.9L909.1 186.3L909.5 189.4L910.0 184.9L910.4 190.6L910.8 185.8L911.2 186.7L911.6 184.2L912.0 197.4L912.4 200.8L912.8 191.0L913.3 192.9L913.7 192.3L914.1 190.0L914.5 189.4L914.9 188.7L915.3 193.8L915.7 184.9L916.2 186.1L916.6 192.6L917.0 183.5L917.4 196.8L917.8 188.5L918.2 191.7L918.6 195.8L919.1 189.7L919.5 190.4L919.9 187.3L920.3 192.4L920.7 193.3L921.1 186.4L921.5 193.0L921.9 194.5L922.4 192.2L922.8 186.6L923.2 193.5L923.6 195.3L924.0 187.3L924.4 180.8L924.8 185.8L925.3 189.0L925.7 201.3L926.1 200.2L926.5 191.7L926.9 186.0L927.3 192.0L927.7 188.6L928.1 183.8L928.6 180.2L929.0 192.4L929.4 181.0L929.8 193.9L930.2 198.5L930.6 188.7L931.0 184.8L931.5 185.8L931.9 185.7L932.3 190.4L932.7 198.4L933.1 185.3L933.5 187.2L933.9 185.5L934.4 193.3L934.8 192.8L935.2 184.5L935.6 186.9L936.0 189.2L936.4 180.7L936.8 186.2L937.2 189.1L937.7 182.4L938.1 189.4L938.5 188.6L938.9 186.1L939.3 193.0L939.7 184.3L940.1 190.1L940.6 186.8L941.0 193.1L941.4 184.7L941.8 190.9L942.2 191.0L942.6 193.4L943.0 195.5L943.4 181.5L943.9 187.8L944.3 183.5L944.7 192.8L945.1 201.7L945.5 187.1L945.9 189.3L946.3 193.9L946.8 188.9L947.2 187.7L947.6 181.1L948.0 185.4L948.4 193.1L948.8 182.5L949.2 190.2L949.6 191.4L950.1 189.1L950.5 196.9L950.9 186.2L951.3 195.6L951.7 187.8L952.1 194.1L952.5 187.1L953.0 190.8L953.4 188.1L953.8 197.3L954.2 185.6L954.6 187.2L955.0 196.6L955.4 194.1L955.9 190.7L956.3 189.7L956.7 185.4L957.1 189.9L957.5 192.6L957.9 196.5L958.3 195.0L958.7 197.1L959.2 192.0L959.6 187.4L960.0 188.8L960.4 196.9L960.8 190.9L961.2 196.5L961.6 182.8L962.1 187.5L962.5 186.0L962.9 190.8L963.3 186.3L963.7 183.8L964.1 189.1L964.5 179.1L964.9 186.9L965.4 191.1L965.8 184.0L966.2 188.5L966.6 185.0L967.0 187.3L967.4 189.5L967.8 190.3L968.3 190.2L968.7 185.1L969.1 195.3L969.5 190.1L969.9 182.2L970.3 194.6L970.7 187.0L971.2 197.7L971.6 192.9L972.0 188.6L972.4 187.5L972.8 185.9L973.2 186.0L973.6 188.0L974.0 195.6L974.5 191.4L974.9 189.6L975.3 192.0L975.7 188.7L976.1 184.4L976.5 183.2L976.9 204.0L977.4 188.6L977.8 197.5L978.2 198.8L978.6 191.8L979.0 194.0L979.4 189.0L979.8 190.0L980.2 191.0L980.7 191.0L981.1 197.8L981.5 190.2L981.9 194.5L982.3 192.0L982.7 193.7L983.1 199.2L983.6 183.8L984.0 196.0L984.4 187.8L984.8 191.6L985.2 187.1L985.6 185.5L986.0 183.9L986.5 178.3L986.9 200.5L987.3 194.8L987.7 189.6L988.1 182.4L988.5 193.9L988.9 197.6L989.3 192.2L989.8 182.6L990.2 188.1L990.6 193.2L991.0 189.6L991.4 194.8L991.8 185.7L992.2 187.1L992.7 178.3L993.1 194.3L993.5 192.0L993.9 187.0L994.3 180.9L994.7 192.7L995.1 174.7L995.5 183.0L996.0 179.7L996.4 182.2L996.8 179.0L997.2 177.1L997.6 193.0L998.0 191.3L998.4 188.1L998.9 185.2L999.3 187.5L999.7 174.8L1000.1 189.5L1000.5 183.2L1000.9 185.2L1001.3 189.2L1001.8 183.6L1002.2 181.0L1002.6 192.1L1003.0 179.5L1003.4 181.6L1003.8 182.0L1004.2 183.9L1004.6 186.7L1005.1 155.3L1005.5 185.8L1005.9 194.8L1006.3 194.2L1006.7 192.9L1007.1 188.6L1007.5 191.4L1008.0 186.8L1008.4 181.4L1008.8 190.4L1009.2 193.6L1009.6 190.2L1010.0 188.7L1010.4 193.1L1010.8 190.6L1011.3 194.2L1011.7 187.1L1012.1 180.8L1012.5 191.5L1012.9 193.3L1013.3 185.8L1013.7 190.7L1014.2 193.1L1014.6 177.2L1015.0 201.1L1015.4 193.0L1015.8 186.9L1016.2 183.3L1016.6 181.4L1017.0 204.0L1017.5 186.9L1017.9 191.8L1018.3 185.1L1018.7 186.8L1019.1 191.6L1019.5 184.3L1019.9 188.1L1020.4 186.5L1020.8 190.8L1021.2 197.2L1021.6 188.0L1022.0 195.3L1022.4 186.6L1022.8 187.1L1023.3 189.3L1023.7 187.5L1024.1 192.5L1024.5 175.5L1024.9 180.5L1025.3 178.9L1025.7 195.9L1026.1 193.5L1026.6 186.4L1027.0 191.6L1027.4 181.3L1027.8 188.1L1028.2 196.1L1028.6 192.2L1029.0 198.7L1029.5 186.4L1029.9 194.3L1030.3 189.5L1030.7 190.5L1031.1 189.8L1031.5 192.3L1031.9 202.2L1032.3 188.7L1032.8 190.0L1033.2 187.7L1033.6 189.6L1034.0 184.6L1034.4 193.0L1034.8 191.9L1035.2 190.3L1035.7 188.7L1036.1 185.3L1036.5 184.1L1036.9 183.2L1037.3 184.7L1037.7 193.1L1038.1 191.1L1038.6 182.3L1039.0 184.8L1039.4 196.1L1039.8 197.9L1040.2 193.6L1040.6 199.4L1041.0 186.1L1041.4 192.0L1041.9 186.9L1042.3 200.2L1042.7 192.0L1043.1 192.5L1043.5 192.2L1043.9 187.1L1044.3 189.9L1044.8 179.5L1045.2 188.1L1045.6 185.5L1046.0 193.8L1046.4 196.3L1046.8 191.2L1047.2 185.2L1047.6 184.9L1048.1 193.5L1048.5 188.4L1048.9 188.3L1049.3 184.4L1049.7 190.6L1050.1 190.1L1050.5 193.1L1051.0 185.2L1051.4 189.6L1051.8 182.6L1052.2 190.4L1052.6 189.3L1053.0 187.5L1053.4 193.2L1053.8 183.1L1054.3 197.0L1054.7 191.7L1055.1 196.0L1055.5 190.7L1055.9 186.1L1056.3 187.1L1056.7 194.5L1057.2 190.0L1057.6 191.6L1058.0 188.2L1058.4 193.7L1058.8 192.8L1059.2 184.2L1059.6 199.5L1060.1 195.2L1060.5 194.3L1060.9 194.3L1061.3 189.9L1061.7 194.1L1062.1 202.4L1062.5 189.9L1062.9 185.3L1063.4 190.5L1063.8 190.8L1064.2 194.7L1064.6 184.0L1065.0 187.8L1065.4 187.1L1065.8 194.7L1066.3 195.1L1066.7 190.7L1067.1 194.6L1067.5 190.0L1067.9 190.0L1068.3 178.9L1068.7 185.3L1069.1 184.5L1069.6 192.0L1070.0 191.1L1070.4 184.7L1070.8 189.8L1071.2 189.1L1071.6 191.1L1072.0 186.8L1072.5 182.4L1072.9 194.9L1073.3 187.9L1073.7 193.6L1074.1 185.1L1074.5 188.1L1074.9 187.7L1075.4 184.4L1075.8 192.4L1076.2 182.4L1076.6 190.2L1077.0 179.0L1077.4 192.4L1077.8 189.4L1078.2 194.4L1078.7 198.4L1079.1 185.7L1079.5 188.9L1079.9 182.9L1080.3 186.6L1080.7 189.0L1081.1 189.2L1081.6 192.5L1082.0 191.2L1082.4 198.9L1082.8 185.3L1083.2 189.2L1083.6 183.6L1084.0 187.7L1084.4 175.6L1084.9 188.1L1085.3 189.1L1085.7 187.0L1086.1 187.3L1086.5 181.5L1086.9 186.3L1087.3 186.5L1087.8 190.0L1088.2 191.2L1088.6 187.1L1089.0 188.7L1089.4 191.1L1089.8 180.6L1090.2 193.9L1090.7 198.7L1091.1 191.0L1091.5 187.2L1091.9 190.6L1092.3 195.4L1092.7 195.8L1093.1 184.0L1093.5 191.8L1094.0 186.8L1094.4 188.0L1094.8 191.4L1095.2 192.4L1095.6 188.3L1096.0 180.5L1096.4 188.0L1096.9 183.9L1097.3 196.4L1097.7 181.3L1098.1 191.4L1098.5 189.0L1098.9 188.5L1099.3 183.4L1099.7 185.8L1100.2 186.3L1100.6 182.5L1101.0 186.9L1101.4 188.7L1101.8 185.9L1102.2 190.1L1102.6 191.4L1103.1 185.6L1103.5 191.4L1103.9 188.0L1104.3 185.5L1104.7 190.6L1105.1 193.2L1105.5 186.6L1106.0 179.8L1106.4 191.8L1106.8 192.7L1107.2 183.2L1107.6 187.6L1108.0 190.3L1108.4 177.2L1108.8 196.1L1109.3 191.5L1109.7 192.0L1110.1 195.1L1110.5 183.5L1110.9 192.9L1111.3 198.7L1111.7 178.0L1112.2 186.7L1112.6 191.1L1113.0 184.7L1113.4 179.6L1113.8 189.2L1114.2 188.8L1114.6 184.6L1115.0 189.0L1115.5 192.2L1115.9 192.9L1116.3 190.4L1116.7 183.1L1117.1 187.4L1117.5 178.4L1117.9 184.3L1118.4 189.9L1118.8 191.5L1119.2 189.1L1119.6 189.2L1120.0 180.5L1120.4 183.9L1120.8 184.3L1121.2 186.7L1121.7 186.6L1122.1 199.6L1122.5 194.4L1122.9 185.2L1123.3 186.8L1123.7 187.5L1124.1 187.7L1124.6 187.9L1125.0 181.0L1125.4 195.9L1125.8 193.8L1126.2 193.2L1126.6 190.6L1127.0 192.1L1127.5 188.4L1127.9 181.1L1128.3 190.5L1128.7 190.1L1129.1 183.9L1129.5 179.4L1129.9 194.8L1130.3 184.9L1130.8 188.3L1131.2 186.3L1131.6 197.3L1132.0 182.7" stroke="#1f77b4" stroke-opacity="0.66" stroke-width="1" stroke-dasharray="4 2" shape-rendering="crispEdges"/>
<path d="M90.0 280.4L90.3 308.5L90.6 283.4L90.9 295.2L91.2 289.4L91.5 278.6L91.8 290.9L92.1 299.4L92.5 292.3L92.8 301.8L93.1 290.4L93.4 293.5L93.7 290.2L94.0 296.4L94.3 309.4L94.6 296.3L94.9 294.7L95.2 287.7L95.5 286.7L95.8 305.5L96.1 283.6L96.4 285.5L96.7 292.5L97.1 289.8L97.4 310.0L97.7 273.1L98.0 296.2L98.3 299.3L98.6 283.9L98.9 287.7L99.2 296.9L99.5 307.3L99.8 285.5L100.1 280.1L100.4 302.1L100.7 306.7L101.0 291.1L101.3 275.4L101.6 306.8L102.0 292.9L102.3 304.3L102.6 294.4L102.9 291.8L103.2 291.1L103.5 307.8L103.8 307.5L104.1 277.2L104.4 281.7L104.7 310.4L105.0 292.2L105.3 284.1L105.6 295.9L105.9 294.7L106.2 294.8L106.6 291.6L106.9 292.7L107.2 291.5L107.5 298.2L107.8 288.6L108.1 293.1L108.4 294.5L108.7 306.8L109.0 298.6L109.3 295.0L109.6 300.3L109.9 299.1L110.2 305.1L110.5 299.8L110.8 310.7L111.2 306.9L111.5 295.1L111.8 291.8L112.1 303.0L112.4 299.9L112.7 294.7L113.0 283.0L113.3 279.7L113.6 298.5L113.9 302.1L114.2 307.3L114.5 284.5L114.8 304.5L115.1 291.0L115.4 298.6L115.8 298.7L116.1 288.1L116.4 290.1L116.7 277.9L117.0 287.5L117.3 280.2L117.6 299.3L117.9 296.2L118.2 303.3L118.5 298.4L118.8 290.2L119.1 298.6L119.4 292.3L119.7 300.6L120.0 298.1L120.3 287.0L120.7 295.4L121.0 295.7L121.3 292.8L121.6 303.2L121.9 310.2L122.2 292.5L122.5 292.5L122.8 276.0L123.1 293.9L123.4 291.2L123.7 276.4L124.0 297.2L124.3 299.5L124.6 288.3L124.9 291.4L125.3 286.4L125.6 301.4L125.9 282.1L126.2 292.5L126.5 312.1L126.8 295.9L127.1 299.1L127.4 294.0L127.7 285.2L128.0 295.1L128.3 300.0L128.6 289.3L128.9 302.1L129.2 311.0L129.5 316.9L129.9 280.2L130.2 296.2L130.5 292.2L130.8 316.5L131.1 313.8L131.4 316.0L131.7 303.7L132.0 302.5L132.3 314.2L132.6 315.7L132.9 310.9L133.2 318.7L133.5 323.5L133.8 322.1L134.1 315.0L134.5 308.2L134.8 320.3L135.1 322.6L135.4 320.0L135.7 318.8L136.0 316.9L136.3 326.1L136.6 321.0L136.9 322.0L137.2 315.0L137.5 317.3L137.8 322.2L138.1 314.9L138.4 313.0L138.7 318.8L139.0 328.6L139.4 322.3L139.7 330.4L140.0 320.6L140.3 319.2L140.6 312.3L140.9 317.4L141.2 330.1L141.5 323.2L141.8 325.8L142.1 325.8L142.4 321.4L142.7 320.3L143.0 322.3L143.3 325.8L143.6 324.6L144.0 324.8L144.3 322.7L144.6 317.1L144.9 320.4L145.2 316.0L145.5 328.6L145.8 309.0L146.1 321.1L146.4 337.6L146.7 320.4L147.0 315.5L147.3 322.6L147.6 331.2L147.9 322.2L148.2 327.0L148.6 323.6L148.9 320.9L149.2 343.1L149.5 323.5L149.8 319.9L150.1 319.9L150.4 325.1L150.7 325.4L151.0 327.7L151.3 323.6L151.6 313.8L151.9 326.1L152.2 320.6L152.5 320.5L152.8 312.8L153.2 318.2L153.5 317.4L153.8 321.9L154.1 312.9L154.4 322.1L154.7 322.5L155.0 314.5L155.3 317.4L155.6 315.9L155.9 326.7L156.2 305.2L156.5 318.8L156.8 311.0L157.1 318.4L157.4 326.5L157.7 317.1L158.1 321.7L158.4 315.1L158.7 332.7L159.0 326.6L159.3 327.8L159.6 312.5L159.9 313.9L160.2 327.6L160.5 319.8L160.8 319.4L161.1 323.0L161.4 312.7L161.7 325.1L162.0 320.3L162.3 323.5L162.7 316.5L163.0 323.8L163.3 313.0L163.6 326.9L163.9 328.0L164.2 326.6L164.5 324.1L164.8 325.0L165.1 304.1L165.4 326.6L165.7 319.8L166.0 321.9L166.3 319.7L166.6 312.6L166.9 318.1L167.3 325.2L167.6 330.1L167.9 317.2L168.2 315.2L168.5 330.3L168.8 316.0L169.1 334.6L169.4 321.9L169.7 316.0L170.0 327.4L170.3 332.0L170.6 312.1L170.9 331.0L171.2 319.5L171.5 330.7L171.9 319.2L172.2 312.3L172.5 325.5L172.8 328.0L173.1 335.5L173.4 333.3L173.7 326.9L174.0 320.6L174.3 319.0L174.6 320.5L174.9 317.3L175.2 320.9L175.5 306.5L175.8 323.6L176.1 322.2L176.5 338.7L176.8 327.2L177.1 319.7L177.4 326.2L177.7 315.1L178.0 319.0L178.3 310.9L178.6 332.1L178.9 326.7L179.2 315.3L179.5 322.4L179.8 328.5L180.1 325.6L180.4 325.3L180.7 317.4L181.0 318.8L181.4 323.4L181.7 328.7L182.0 317.5L182.3 315.7L182.6 329.7L182.9 316.7L183.2 329.2L183.5 323.8L183.8 328.1L184.1 333.6L184.4 327.1L184.7 327.5L185.0 316.7L185.3 317.8L185.6 326.2L186.0 332.1L186.3 331.1L186.6 337.0L186.9 324.2L187.2 323.6L187.5 328.3L187.8 321.8L188.1 321.5L188.4 315.2L188.7 328.3L189.0 315.3L189.3 325.3L189.6 313.1L189.9 329.3L190.2 316.0L190.6 327.8L190.9 312.1L191.2 319.4L191.5 329.9L191.8 317.5L192.1 322.9L192.4 319.5L192.7 308.0L193.0 324.6L193.3 325.2L193.6 315.7L193.9 326.2L194.2 317.4L194.5 316.1L194.8 322.6L195.2 318.2L195.5 337.0L195.8 313.1L196.1 327.6L196.4 328.9L196.7 310.0L197.0 311.7L197.3 326.0L197.6 319.2L197.9 324.9L198.2 329.9L198.5 320.2L198.8 315.7L199.1 305.1L199.4 323.3L199.7 316.2L200.1 324.2L200.4 323.5L200.7 313.2L201.0 332.7L201.3 328.9L201.6 327.3L201.9 314.2L202.2 319.0L202.5 318.1L202.8 319.2L203.1 314.9L203.4 324.8L203.7 324.5L204.0 324.4L204.3 318.8L204.7 330.2L205.0 323.2L205.3 304.5L205.6 317.6L205.9 321.3L206.2 327.4L206.5 319.4L206.8 319.9L207.1 317.3L207.4 325.5L207.7 318.7L208.0 318.0L208.3 317.0L208.6 325.2L208.9 318.4L209.3 311.2L209.6 325.6L209.9 317.5L210.2 324.1L210.5 323.7L210.8 329.1L211.1 328.3L211.4 318.4L211.7 320.9L212.0 313.8L212.3 332.5L212.6 325.1L212.9 331.2L213.2 320.5L213.5 309.3L213.9 331.8L214.2 322.5L214.5 322.7L214.8 322.3L215.1 325.9L215.4 325.4L215.7 312.3L216.0 329.2L216.3 318.8L216.6 319.2L216.9 333.0L217.2 327.7L217.5 319.9L217.8 310.4L218.1 322.9L218.4 325.1L218.8 321.2L219.1 313.9L219.4 316.5L219.7 313.7L220.0 323.0L220.3 326.6L220.6 328.0L220.9 317.1L221.2 323.2L221.5 325.0L221.8 318.2L222.1 320.5L222.4 334.7L222.7 322.9L223.0 326.8L223.4 318.6L223.7 321.4L224.0 310.2L224.3 320.9L224.6 328.7L224.9 334.6L225.2 328.7L225.5 325.7L225.8 321.3L226.1 317.2L226.4 320.0L226.7 324.7L227.0 315.9L227.3 326.9L227.6 314.7L228.0 309.7L228.3 314.4L228.6 310.3L228.9 306.3L229.2 328.0L229.5 319.4L229.8 322.4L230.1 333.3L230.4 329.0L230.7 317.8L231.0 329.1L231.3 323.0L231.6 320.6L231.9 323.5L232.2 311.7L232.6 315.7L232.9 320.1L233.2 324.6L233.5 318.7L233.8 320.0L234.1 326.7L234.4 329.5L234.7 325.3L235.0 328.5L235.3 318.0L235.6 318.6L235.9 322.3L236.2 318.6L236.5 317.4L236.8 330.8L237.1 319.4L237.5 314.5L237.8 323.6L238.1 332.2L238.4 321.2L238.7 328.4L239.0 317.9L239.3 317.7L239.6 316.6L239.9 320.1L240.2 332.4L240.5 313.4L240.8 330.9L241.1 314.3L241.4 319.4L241.7 326.3L242.1 324.6L242.4 322.5L242.7 310.3L243.0 323.1L243.3 314.6L243.6 337.2L243.9 319.4L244.2 322.0L244.5 313.7L244.8 318.0L245.1 313.0L245.4 327.1L245.7 319.2L246.0 324.5L246.3 316.9L246.7 318.1L247.0 329.1L247.3 315.1L247.6 309.8L247.9 323.7L248.2 313.9L248.5 316.5L248.8 326.8L249.1 316.1L249.4 326.8L249.7 316.7L250.0 330.2L250.3 328.9L250.6 317.8L250.9 319.7L251.3 315.8L251.6 322.2L251.9 328.2L252.2 311.7L252.5 330.8L252.8 312.5L253.1 315.5L253.4 309.3L253.7 333.6L254.0 320.7L254.3 322.0L254.6 316.2L254.9 327.3L255.2 307.2L255.5 320.7L255.8 334.6L256.2 318.2L256.5 320.8L256.8 324.8L257.1 315.5L257.4 320.9L257.7 327.0L258.0 322.2L258.3 323.2L258.6 318.7L258.9 323.0L259.2 321.7L259.5 330.6L259.8 325.9L260.1 320.0L260.4 306.2L260.8 326.0L261.1 326.3L261.4 315.6L261.7 308.6L262.0 314.0L262.3 327.2L262.6 314.8L262.9 318.6L263.2 323.2L263.5 329.8L263.8 322.1L264.1 321.5L264.4 318.5L264.7 332.1L265.0 328.7L265.4 321.4L265.7 313.4L266.0 317.3L266.3 325.8L266.6 317.5L266.9 327.8L267.2 324.6L267.5 324.3L267.8 326.6L268.1 325.5L268.4 317.0L268.7 320.4L269.0 336.9L269.3 314.5L269.6 318.9L270.0 328.6L270.3 320.9L270.6 316.6L270.9 313.3L271.2 325.3L271.5 328.0L271.8 330.5L272.1 322.3L272.4 328.7L272.7 315.4L273.0 323.0L273.3 317.7L273.6 322.5L273.9 325.9L274.2 328.0L274.5 315.1L274.9 329.8L275.2 319.0L275.5 315.5L275.8 320.9L276.1 312.9L276.4 321.9L276.7 323.8L277.0 320.8L277.3 325.6L277.6 320.2L277.9 322.0L278.2 312.9L278.5 322.5L278.8 316.8L279.1 319.6L279.5 322.0L279.8 323.7L280.1 304.8L280.4 312.7L280.7 321.0L281.0 325.7L281.3 325.0L281.6 328.5L281.9 331.2L282.2 326.0L282.5 322.8L282.8 316.4L283.1 317.1L283.4 320.1L283.7 324.7L284.1 324.8L284.4 323.6L284.7 322.4L285.0 329.9L285.3 324.3L285.6 324.6L285.9 324.7L286.2 319.3L286.5 311.5L286.8 325.7L287.1 325.2L287.4 321.2L287.7 319.6L288.0 336.5L288.3 317.6L288.7 321.3L289.0 325.6L289.3 315.4L289.6 323.3L289.9 334.2L290.2 328.8L290.5 326.8L290.8 326.4L291.1 323.3L291.4 328.8L291.7 321.6L292.0 319.7L292.3 323.2L292.6 328.4L292.9 324.6L293.2 326.7L293.6 309.7L293.9 330.0L294.2 337.2L294.5 330.8L294.8 320.2L295.1 316.8L295.4 324.1L295.7 316.2L296.0 326.9L296.3 318.9L296.6 328.2L296.9 331.0L297.2 309.4L297.5 323.9L297.8 317.5L298.2 313.4L298.5 318.6L298.8 320.9L299.1 328.6L299.4 312.5L299.7 328.7L300.0 334.7L300.3 325.7L300.6 325.5L300.9 322.2L301.2 314.8L301.5 325.8L301.8 325.1L302.1 327.6L302.4 339.5L302.8 327.5L303.1 325.8L303.4 333.0L303.7 314.7L304.0 316.0L304.3 320.8L304.6 318.7L304.9 327.4L305.2 321.0L305.5 334.0L305.8 332.4L306.1 327.6L306.4 320.2L306.7 326.7L307.0 328.0L307.4 316.2L307.7 325.6L308.0 328.0L308.3 324.7L308.6 332.8L308.9 330.2L309.2 317.3L309.5 323.2L309.8 316.7L310.1 325.7L310.4 316.4L310.7 327.6L311.0 324.1L311.3 327.6L311.6 320.7L311.9 312.1L312.3 332.1L312.6 319.6L312.9 329.2L313.2 323.8L313.5 325.5L313.8 333.0L314.1 323.6L314.4 330.1L314.7 312.2L315.0 327.2L315.3 320.2L315.6 320.9L315.9 321.9L316.2 324.0L316.5 332.3L316.9 310.4L317.2 322.1L317.5 317.6L317.8 329.3L318.1 319.0L318.4 324.6L318.7 319.5L319.0 326.2L319.3 328.5L319.6 319.8L319.9 322.7L320.2 313.7L320.5 324.7L320.8 328.3L321.1 319.4L321.5 329.9L321.8 310.0L322.1 311.1L322.4 314.0L322.7 319.8L323.0 323.2L323.3 322.7L323.6 322.7L323.9 327.2L324.2 319.6L324.5 314.5L324.8 314.6L325.1 335.7L325.4 307.4L325.7 320.9L326.1 331.1L326.4 326.9L326.7 316.5L327.0 321.8L327.3 327.4L327.6 329.8L327.9 316.2L328.2 326.5L328.5 323.2L328.8 328.4L329.1 329.9L329.4 319.2L329.7 312.2L330.0 323.4L330.3 332.2L330.7 325.3L331.0 322.3L331.3 336.0L331.6 314.4L331.9 326.8L332.2 317.4L332.5 321.7L332.8 322.1L333.1 331.2L333.4 315.4L333.7 317.9L334.0 311.0L334.3 324.3L334.6 318.1L334.9 323.9L335.2 309.8L335.6 318.8L335.9 327.5L336.2 320.1L336.5 325.2L336.8 324.7L337.1 319.2L337.4 311.5L337.7 327.6L338.0 322.1L338.3 327.3L338.6 308.7L338.9 311.4L339.2 308.3L339.5 316.4L339.8 328.3L340.2 325.5L340.5 321.9L340.8 322.7L341.1 326.7L341.4 318.5L341.7 324.1L342.0 322.3L342.3 307.4L342.6 318.4L342.9 329.3L343.2 318.2L343.5 319.7L343.8 316.7L344.1 317.5L344.4 327.7L344.8 319.0L345.1 314.4L345.4 300.9L345.7 317.0L346.0 308.3L346.3 309.3L346.6 325.7L346.9 328.5L347.2 308.9L347.5 326.5L347.8 324.1L348.1 316.3L348.4 325.9L348.7 311.0L349.0 313.8L349.4 312.1L349.7 314.3L350.0 326.9L350.3 313.1L350.6 314.3L350.9 315.6L351.2 322.7L351.5 319.3L351.8 327.0L352.1 317.2L352.4 313.8L352.7 319.1L353.0 322.8L353.3 316.6L353.6 324.3L353.9 334.3L354.3 319.5L354.6 323.5L354.9 331.7L355.2 319.2L355.5 317.8L355.8 316.4L356.1 325.7L356.4 326.7L356.7 322.6L357.0 323.9L357.3 331.4L357.6 332.6L357.9 314.4L358.2 323.1L358.5 323.6L358.9 327.7L359.2 321.6L359.5 318.6L359.8 319.8L360.1 311.4L360.4 322.2L360.7 318.7L361.0 325.4L361.3 316.3L361.6 320.5L361.9 317.1L362.2 316.7L362.5 327.8L362.8 320.3L363.1 326.2L363.5 316.0L363.8 324.0L364.1 312.6L364.4 320.1L364.7 319.9L365.0 326.6L365.3 324.1L365.6 321.7L365.9 331.7L366.2 324.2L366.5 326.2L366.8 327.3L367.1 322.2L367.4 320.8L367.7 324.8L368.1 320.1L368.4 326.8L368.7 330.0L369.0 328.3L369.3 320.3L369.6 314.9L369.9 322.5L370.2 322.2L370.5 330.0L370.8 320.4L371.1 321.8L371.4 327.6L371.7 319.5L372.0 321.2L372.3 333.1L372.6 331.8L373.0 326.3L373.3 324.0L373.6 316.1L373.9 325.8L374.2 322.6L374.5 323.6L374.8 318.7L375.1 321.8L375.4 320.8L375.7 323.9L376.0 330.8L376.3 324.0L376.6 311.4L376.9 315.8L377.2 312.3L377.6 317.4L377.9 325.8L378.2 325.1L378.5 318.7L378.8 324.1L379.1 317.7L379.4 313.9L379.7 314.2L380.0 313.3L380.3 331.6L380.6 314.2L380.9 330.6L381.2 331.4L381.5 321.7L381.8 322.6L382.2 319.4L382.5 323.1L382.8 327.4L383.1 322.9L383.4 333.4L383.7 330.2L384.0 324.9L384.3 324.9L384.6 322.3L384.9 324.9L385.2 315.7L385.5 325.2L385.8 323.7L386.1 317.0L386.4 336.1L386.8 316.6L387.1 317.1L387.4 324.4L387.7 310.4L388.0 317.4L388.3 312.8L388.6 316.1L388.9 321.4L389.2 324.1L389.5 329.1L389.8 327.0L390.1 329.0L390.4 325.7L390.7 319.1L391.0 329.0L391.3 318.7L391.7 317.9L392.0 331.4L392.3 326.7L392.6 323.3L392.9 326.7L393.2 331.2L393.5 313.9L393.8 321.7L394.1 315.0L394.4 323.1L394.7 318.1L395.0 331.0L395.3 325.6L395.6 317.1L395.9 322.2L396.3 314.6L396.6 322.6L396.9 325.6L397.2 323.6L397.5 309.8L397.8 319.7L398.1 324.8L398.4 323.3L398.7 328.5L399.0 312.7L399.3 324.0L399.6 316.8L399.9 322.0L400.2 323.4L400.5 325.1L400.9 317.1L401.2 321.9L401.5 313.3L401.8 312.0L402.1 324.5L402.4 320.7L402.7 310.9L403.0 315.3L403.3 320.8L403.6 330.2L403.9 327.0L404.2 325.5L404.5 309.5L404.8 319.8L405.1 323.4L405.5 323.0L405.8 323.1L406.1 319.2L406.4 331.7L406.7 330.0L407.0 320.1L407.3 315.0L407.6 334.3L407.9 317.8L408.2 328.7L408.5 333.3L408.8 315.7L409.1 323.5L409.4 319.6L409.7 325.3L410.0 324.0L410.4 334.3L410.7 325.5L411.0 321.7L411.3 328.8L411.6 319.7L411.9 319.2L412.2 335.5L412.5 316.0L412.8 315.9L413.1 321.8L413.4 314.9L413.7 308.3L414.0 328.4L414.3 316.6L414.6 318.0L415.0 318.8L415.3 315.1L415.6 314.7L415.9 322.0L416.2 336.0L416.5 325.6L416.8 325.7L417.1 311.7L417.4 321.1L417.7 313.4L418.0 325.7L418.3 319.3L418.6 321.1L418.9 320.3L419.2 317.0L419.6 311.3L419.9 324.5L420.2 311.9L420.5 313.2L420.8 318.8L421.1 316.3L421.4 322.9L421.7 328.0L422.0 323.3L422.3 322.9L422.6 322.2L422.9 327.5L423.2 310.3L423.5 324.0L423.8 315.9L424.2 313.9L424.5 321.5L424.8 319.2L425.1 325.4L425.4 328.6L425.7 307.1L426.0 321.1L426.3 334.0L426.6 327.3L426.9 331.1L427.2 322.7L427.5 313.1L427.8 315.1L428.1 326.7L428.4 328.1L428.7 317.6L429.1 320.7L429.4 324.0L429.7 311.4L430.0 320.2L430.3 332.7L430.6 336.2L430.9 321.6L431.2 333.8L431.5 318.9L431.8 317.0L432.1 307.6L432.4 327.7L432.7 319.1L433.0 335.6L433.3 322.9L433.7 322.1L434.0 309.6L434.3 330.4L434.6 316.7L434.9 320.1L435.2 307.2L435.5 327.0L435.8 327.6L436.1 318.0L436.4 322.7L436.7 324.6L437.0 328.3L437.3 322.8L437.6 332.9L437.9 320.3L438.3 318.0L438.6 318.7L438.9 305.7L439.2 316.6L439.5 328.3L439.8 323.6L440.1 316.6L440.4 323.9L440.7 300.0L441.0 320.3L441.3 325.4L441.6 326.4L441.9 317.0L442.2 327.4L442.5 333.6L442.9 319.4L443.5 318.0L444.5 335.0L445.5 350.0L445.5 40.0L446.5 40.0L446.5 268.0L447.1 262.0L447.4 270.8L447.8 267.6L448.1 281.1L448.4 266.9L448.7 269.6L449.0 254.7L449.3 262.7L449.6 262.0L449.9 265.9L450.2 268.6L450.5 261.6L450.8 277.4L451.1 259.9L451.4 263.7L451.7 268.3L452.0 259.0L452.4 270.7L452.7 271.4L453.0 265.3L453.3 279.2L453.6 267.7L453.9 269.0L454.2 260.9L454.5 256.3L454.8 262.9L455.1 265.0L455.4 264.6L455.7 272.4L456.0 252.3L456.3 260.4L456.6 256.1L457.0 276.0L457.3 264.1L457.6 264.8L457.9 261.1L458.2 273.5L458.5 265.2L458.8 269.2L459.1 254.9L459.4 280.3L459.7 270.6L460.0 271.4L460.3 275.7L460.6 266.7L460.9 266.9L461.2 272.3L461.6 270.3L461.9 265.9L462.2 267.6L462.5 264.4L462.8 272.2L463.1 273.7L463.4 268.2L463.7 280.1L464.0 258.4L464.3 266.7L464.6 279.2L464.9 265.8L465.2 258.5L465.5 277.3L465.8 271.7L466.2 260.9L466.5 273.4L466.8 262.2L467.1 260.3L467.4 268.0L467.7 265.9L468.0 261.4L468.3 266.0L468.6 262.1L468.9 268.8L469.2 268.5L469.5 273.7L469.8 265.9L470.1 260.1L470.4 260.7L470.7 267.3L471.1 278.3L471.4 274.0L471.7 264.7L472.0 274.7L472.3 261.5L472.6 279.4L472.9 266.0L473.2 273.1L473.5 272.2L473.8 266.2L474.1 270.0L474.4 261.4L474.7 268.1L475.0 275.2L475.3 294.5L475.7 273.0L476.0 269.1L476.3 262.4L476.6 275.4L476.9 258.3L477.2 263.7L477.5 270.9L477.8 260.8L478.1 278.2L478.4 280.4L478.7 265.5L479.0 265.7L479.3 261.2L479.6 260.9L479.9 272.4L480.3 273.4L480.6 271.7L480.9 270.7L481.2 265.7L481.5 271.6L481.8 260.2L482.1 269.5L482.4 279.1L482.7 278.2L483.0 267.0L483.3 267.9L483.6 278.7L483.9 281.2L484.2 260.5L484.5 267.2L484.9 271.6L485.2 277.2L485.5 264.4L485.8 273.4L486.1 267.5L486.4 284.6L486.7 272.2L487.0 268.6L487.3 267.0L487.6 275.9L487.9 273.5L488.2 262.5L488.5 270.7L488.8 260.4L489.1 263.8L489.4 260.4L489.8 260.3L490.1 264.2L490.4 262.3L490.7 271.9L491.0 273.9L491.3 267.8L491.6 262.0L491.9 274.3L492.2 256.0L492.5 247.9L492.8 273.6L493.1 273.1L493.4 275.3L493.7 267.9L494.0 261.2L494.4 266.1L494.7 272.8L495.0 264.3L495.3 264.6L495.6 260.6L495.9 262.0L496.2 278.4L496.5 272.3L496.8 261.8L497.1 262.4L497.4 265.5L497.7 272.5L498.0 261.4L498.3 267.7L498.6 254.9L499.0 260.3L499.3 271.0L499.6 274.2L499.9 261.2L500.2 263.7L500.5 273.4L500.8 265.8L501.1 265.1L501.4 271.6L501.7 269.3L502.0 275.3L502.3 273.3L502.6 264.7L502.9 267.3L503.2 267.0L503.6 258.3L503.9 259.9L504.2 271.5L504.5 255.0L504.8 270.8L505.1 265.9L505.4 262.8L505.7 266.7L506.0 265.4L506.3 269.5L506.6 258.8L506.9 259.5L507.2 257.5L507.5 271.7L507.8 265.5L508.1 253.6L508.5 256.7L508.8 254.3L509.1 258.4L509.4 259.5L509.7 272.6L510.0 246.2L510.3 263.1L510.6 257.8L510.9 249.8L511.2 252.2L511.5 248.5L511.8 251.2L512.1 256.3L512.4 239.2L512.7 256.0L513.1 244.5L513.4 255.7L513.7 247.8L514.0 251.9L514.3 246.6L514.6 248.9L514.9 240.9L515.2 229.5L515.5 240.9L515.8 238.9L516.1 245.5L516.4 217.8L516.7 227.5L517.0 233.6L517.3 217.0L517.7 221.9L518.0 234.6L518.3 228.0L518.6 211.4L518.9 224.1L519.2 220.1L519.5 215.5L519.8 210.9L520.1 209.1L520.4 202.9L520.7 203.8L521.0 215.2L521.3 212.3L521.6 224.1L521.9 211.9L522.3 199.9L522.6 214.0L522.9 218.6L523.2 220.5L523.5 219.4L523.8 214.8L524.1 230.3L524.4 217.8L524.7 227.8L525.0 222.5L525.3 218.1L525.6 235.6L525.9 211.9L526.2 222.8L526.5 231.2L526.8 226.5L527.2 236.8L527.5 228.5L527.8 226.5L528.1 243.0L528.4 228.4L528.7 229.3L529.0 223.9L529.3 226.6L529.6 235.8L529.9 236.0L530.2 232.6L530.5 228.5L530.8 237.6L531.1 222.5L531.4 231.9L531.8 233.2L532.1 229.8L532.4 235.9L532.7 230.4L533.0 229.5L533.3 245.8L533.6 238.9L533.9 241.9L534.2 234.6L534.5 240.4L534.8 239.2L535.1 242.2L535.4 249.4L535.7 233.2L536.0 236.2L536.4 234.1L536.7 212.6L537.0 225.9L537.3 235.0L537.6 238.8L537.9 231.0L538.2 241.9L538.5 242.9L538.8 232.2L539.1 243.8L539.4 245.7L539.7 239.4L540.0 228.2L540.3 243.5L540.6 233.4L541.0 232.0L541.3 235.5L541.6 231.8L541.9 241.6L542.2 239.5L542.5 242.3L542.8 238.1L543.1 229.4L543.4 233.3L543.7 239.9L544.0 230.2L544.3 252.9L544.6 232.9L544.9 230.4L545.2 241.5L545.5 238.7L545.9 234.1L546.2 232.9L546.5 237.5L546.8 240.2L547.1 239.7L547.4 233.4L547.7 237.8L548.0 240.5L548.3 240.4L548.6 216.2L548.9 230.2L549.2 231.1L549.5 234.4L549.8 236.9L550.1 241.5L550.5 239.6L550.8 234.8L551.1 235.7L551.4 246.6L551.7 231.3L552.0 236.8L552.3 245.0L552.6 237.5L552.9 222.6L553.2 237.9L553.5 233.2L553.8 235.0L554.1 242.5L554.4 238.5L554.7 234.0L555.1 241.7L555.4 240.6L555.7 236.5L556.0 237.7L556.3 237.2L556.6 233.5L556.9 232.4L557.2 235.5L557.5 229.4L557.8 227.1L558.1 243.3L558.4 233.4L558.7 234.5L559.0 233.9L559.3 234.7L559.7 234.6L560.0 234.8L560.3 229.4L560.6 240.4L560.9 229.9L561.2 240.8L561.5 222.1L561.8 227.4L562.1 240.5L562.4 233.3L562.7 226.6L563.0 236.2L563.3 227.2L563.6 234.5L563.9 220.1L564.2 231.0L564.6 229.7L564.9 237.5L565.2 239.7L565.5 228.4L565.8 244.1L566.1 230.1L566.4 220.7L566.7 219.0L567.0 243.4L567.3 233.2L567.6 229.6L567.9 228.8L568.2 226.8L568.5 242.2L568.8 233.0L569.2 244.9L569.5 231.9L569.8 218.3L570.1 238.4L570.4 230.8L570.7 231.6L571.0 243.1L571.3 232.0L571.6 241.0L571.9 234.1L572.2 229.5L572.5 237.2L572.8 230.4L573.1 242.1L573.4 240.1L573.8 234.4L574.1 237.6L574.4 237.0L574.7 231.8L575.0 239.2L575.3 231.8L575.6 236.8L575.9 226.9L576.2 233.5L576.5 235.5L576.8 227.8L577.1 230.0L577.4 229.0L577.7 237.1L578.0 228.2L578.4 235.3L578.7 242.0L579.0 234.8L579.3 222.4L579.6 233.3L579.9 239.3L580.2 231.3L580.5 239.6L580.8 236.5L581.1 235.0L581.4 229.3L581.7 228.6L582.0 230.1L582.3 231.9L582.6 234.5L582.9 233.9L583.3 229.3L583.6 231.5L583.9 233.6L584.2 221.2L584.5 226.6L584.8 226.6L585.1 229.5L585.4 229.8L585.7 230.0L586.0 226.5L586.3 236.1L586.6 233.6L586.9 221.6L587.2 232.1L587.5 224.9L587.9 242.7L588.2 229.0L588.5 229.2L588.8 232.5L589.1 230.8L589.4 231.4L589.7 248.4L590.0 233.2L590.3 237.1L590.6 243.8L590.9 226.1L591.2 243.0L591.5 237.0L591.8 238.9L592.1 227.6L592.5 238.1L592.8 235.5L593.1 229.6L593.4 247.3L593.7 236.1L594.0 231.3L594.3 233.9L594.6 238.1L594.9 239.4L595.2 236.0L595.5 240.1L595.8 241.6L596.1 224.4L596.4 229.0L596.7 226.3L597.1 232.8L597.4 241.0L597.7 236.0L598.0 225.2L598.3 230.3L598.6 238.6L598.9 229.0L599.2 231.5L599.5 234.0L599.8 220.8L600.1 237.1L600.4 234.1L600.7 235.2L601.0 225.4L601.3 226.4L601.6 227.4L602.0 232.5L602.3 231.1L602.6 231.4L602.9 241.9L603.2 238.7L603.5 225.9L603.8 226.2L604.1 240.7L604.4 226.0L604.7 235.2L605.0 235.1L605.3 220.1L605.6 220.1L605.9 220.6L606.2 213.1L606.6 211.0L606.9 212.7L607.2 219.1L607.5 209.3L607.8 209.2L608.1 206.2L608.4 199.1L608.7 215.3L609.0 189.8L609.3 197.2L609.6 201.9L609.9 186.7L610.2 196.1L610.5 197.5L610.8 181.4L611.2 185.2L611.5 173.8L611.8 180.9L612.1 175.7L612.4 174.5L612.7 180.2L613.0 172.7L613.3 176.6L613.6 170.1L613.9 156.8L614.2 164.4L614.5 166.3L614.8 150.2L615.1 166.8L615.4 159.9L615.8 162.7L616.1 156.1L616.4 163.1L616.7 165.8L617.0 162.9L617.3 166.9L617.6 153.8L617.9 176.8L618.2 157.9L618.5 156.9L618.8 165.4L619.1 167.3L619.4 176.9L619.7 169.1L620.0 179.3L620.4 171.0L620.7 192.0L621.0 182.7L621.3 193.0L621.6 175.6L621.9 187.6L622.2 178.1L622.5 188.0L622.8 189.1L623.1 167.9L623.4 178.3L623.7 178.4L624.0 177.2L624.3 182.5L624.6 181.3L624.9 178.9L625.3 189.2L625.6 192.8L625.9 181.3L626.2 186.6L626.5 190.6L626.8 189.7L627.1 187.0L627.4 197.0L627.7 197.6L628.0 196.9L628.3 191.3L628.6 204.7L628.9 203.3L629.2 189.9L629.5 191.9L629.9 200.3L630.2 187.4L630.5 194.8L630.8 192.8L631.1 188.3L631.4 191.3L631.7 182.6L632.0 188.8L632.3 179.6L632.6 206.5L632.9 201.4L633.2 199.9L633.5 194.2L633.8 198.4L634.1 200.0L634.5 197.9L634.8 197.1L635.1 185.6L635.4 193.9L635.7 187.3L636.0 178.1L636.3 183.5L636.6 193.2L636.9 197.0L637.2 181.8L637.5 209.0L637.8 199.7L638.1 187.9L638.4 187.5L638.7 190.0L639.1 196.9L639.4 188.2L639.7 183.8L640.0 192.6L640.3 177.5L640.6 191.5L640.9 197.8L641.2 192.5L641.5 195.5L641.8 193.6L642.1 195.4L642.4 191.9L642.7 185.5L643.0 189.5L643.3 190.6L643.6 199.0L644.0 201.5L644.3 193.9L644.6 186.6L644.9 186.9L645.2 190.5L645.5 200.3L645.8 193.7L646.1 191.3L646.4 186.6L646.7 197.1L647.0 193.4L647.3 191.2L647.6 192.0L647.9 202.3L648.2 190.4L648.6 202.0L648.9 199.0L649.2 191.3L649.5 196.4L649.8 190.0L650.1 185.4L650.4 189.1L650.7 185.1L651.0 194.3L651.3 191.2L651.6 194.3L651.9 196.0L652.2 171.1L652.5 192.6L652.8 179.2L653.2 191.9L653.5 185.3L653.8 191.7L654.1 199.6L654.4 180.1L654.7 192.1L655.0 190.5L655.3 179.2L655.6 195.1L655.9 191.6L656.2 188.1L656.5 187.1L656.8 211.9L657.1 189.2L657.4 180.7L657.8 186.0L658.1 189.6L658.4 189.3L658.7 191.2L659.0 185.4L659.3 195.6L659.6 189.4L659.9 183.7L660.2 187.3L660.5 190.1L660.8 198.0L661.1 195.4L661.4 190.1L661.7 192.4L662.0 193.6L662.3 205.0L662.7 188.2L663.0 194.5L663.3 196.2L663.6 185.5L663.9 192.6L664.2 192.1L664.5 188.2L664.8 194.7L665.1 197.7L665.4 198.5L665.7 190.0L666.0 192.5L666.3 205.9L666.6 184.1L666.9 192.3L667.3 196.5L667.6 192.0L667.9 194.9L668.2 191.9L668.5 195.7L668.8 199.1L669.1 189.6L669.4 191.9L669.7 190.2L670.0 187.8L670.3 190.3L670.6 183.2L670.9 195.2L671.2 201.1L671.5 201.3L671.9 198.5L672.2 184.6L672.5 200.4L672.8 186.3L673.1 190.5L673.4 202.8L673.7 184.6L674.0 196.5L674.3 193.3L674.6 190.6L674.9 186.0L675.2 194.0L675.5 188.5L675.8 197.7L676.1 198.9L676.5 182.5L676.8 188.2L677.1 189.2L677.4 183.7L677.7 183.9L678.0 191.4L678.3 189.5L678.6 180.4L678.9 187.3L679.2 193.9L679.5 183.0L679.8 180.8L680.1 200.9L680.4 199.0L680.7 180.5L681.0 182.2L681.4 192.9L681.7 182.7L682.0 188.5L682.3 187.1L682.6 193.3L682.9 173.8L683.2 175.8L683.5 182.0L683.8 196.0L684.1 188.2L684.4 178.5L684.7 192.1L685.0 193.5L685.3 187.6L685.6 187.3L686.0 191.8L686.3 196.5L686.6 190.1L686.9 192.5L687.2 188.6L687.5 186.5L687.8 183.1L688.1 190.5L688.4 186.8L688.7 187.2L689.0 194.4L689.3 191.6L689.6 194.1L689.9 178.7L690.2 192.1L690.6 184.7L690.9 183.7L691.2 183.3L691.5 196.4L691.8 193.8L692.1 184.4L692.4 181.8L692.7 189.1L693.0 186.0L693.3 199.4L693.6 179.8L693.9 177.7L694.2 187.8L694.5 189.6L694.8 190.3L695.2 194.0L695.5 202.3L695.8 187.0L696.1 185.9L696.4 178.4L696.7 190.8L697.0 194.3L697.3 187.1L697.6 196.1L697.9 188.9L698.2 198.3L698.5 190.9L698.8 182.4L699.1 181.6L699.4 168.9L699.7 160.3L700.1 166.7L700.4 170.4L700.7 177.2L701.0 164.5L701.3 163.1L701.6 157.6L701.9 170.9L702.2 167.2L702.5 160.8L702.8 168.6L703.1 168.2L703.4 153.0L703.7 169.4L704.0 165.3L704.3 161.6L704.7 161.4L705.0 175.3L705.3 174.0L705.6 176.2L705.9 157.3L706.2 160.4L706.5 169.9L706.8 156.6L707.1 159.7L707.4 153.1L707.7 176.3L708.0 171.3L708.3 167.5L708.6 166.1L708.9 161.9L709.3 161.8L709.6 168.4L709.9 159.9L710.2 172.1L710.5 161.6L710.8 159.4L711.1 172.1L711.4 159.7L711.7 160.9L712.0 151.4L712.3 136.5L712.6 153.2L712.9 135.5L713.2 152.6L713.5 127.9L713.9 122.6L714.2 133.0L714.5 130.8L714.8 125.8L715.1 115.1L715.4 129.1L715.7 114.9L716.0 121.8L716.3 120.5L716.6 123.8L716.9 132.4L717.2 121.2L717.5 132.4L717.8 133.9L718.1 119.3L718.4 123.6L718.8 129.3L719.1 128.8L719.4 135.1L719.7 122.1L720.0 139.5L720.3 140.3L720.6 135.3L720.9 128.0L721.2 137.7L721.5 135.0L721.8 143.0L722.1 139.8L722.4 145.7L722.7 138.8L723.0 151.6L723.4 128.9L723.7 137.4L724.0 147.4L724.3 135.5L724.6 150.4L724.9 138.9L725.2 147.6L725.5 142.0L725.8 145.3L726.1 150.3L726.4 149.1L726.7 148.0L727.0 164.7L727.3 151.8L727.6 146.3L728.0 163.1L728.3 159.0L728.6 162.4L728.9 166.9L729.2 150.6L729.5 164.0L729.8 165.5L730.1 158.9L730.4 160.9L730.7 140.9L731.0 156.7L731.3 172.4L731.6 149.8L731.9 158.5L732.2 164.0L732.6 166.2L732.9 173.2L733.2 152.4L733.5 164.1L733.8 169.6L734.1 156.5L734.4 165.1L734.7 177.5L735.0 174.3L735.3 169.4L735.6 150.2L735.9 166.2L736.2 170.0L736.5 165.9L736.8 168.1L737.1 186.4L737.5 162.2L737.8 153.8L738.1 157.9L738.4 151.3L738.7 147.8L739.0 145.7L739.3 147.4L739.6 140.7L739.9 128.1L740.2 131.5L740.5 131.8L740.8 122.6L741.1 131.1L741.4 129.8L741.7 119.6L742.1 129.1L742.4 140.2L742.7 138.2L743.0 128.9L743.3 135.9L743.6 127.1L743.9 122.9L744.2 136.4L744.5 135.5L744.8 138.0L745.1 135.6L745.4 138.8L745.7 134.5L746.0 141.5L746.3 144.6L746.7 140.0L747.0 145.9L747.3 130.4L747.6 137.8L747.9 152.5L748.2 155.4L748.5 146.2L748.8 144.4L749.1 137.8L749.4 148.9L749.7 152.1L750.0 138.8L750.3 152.3L750.6 152.5L750.9 153.0L751.3 143.1L751.6 153.8L751.9 141.0L752.2 159.9L752.5 151.4L752.8 143.4L753.1 159.4L753.4 158.4L753.7 147.2L754.0 165.5L754.3 145.7L754.6 154.1L754.9 159.5L755.2 137.7L755.5 162.6L755.8 151.6L756.2 151.9L756.5 145.3L756.8 154.3L757.1 145.1L757.4 146.7L757.7 149.9L758.0 145.2L758.3 162.7L758.6 144.7L758.9 148.4L759.2 151.1L759.5 153.0L759.8 157.7L760.1 158.2L760.4 151.2L760.8 150.6L761.1 153.4L761.4 158.4L761.7 157.6L762.0 150.1L762.3 140.4L762.6 166.8L762.9 159.6L763.2 155.2L763.5 155.7L763.8 150.5L764.1 147.3L764.4 151.3L764.7 152.1L765.0 149.6L765.4 144.6L765.7 152.1L766.0 157.6L766.3 151.0L766.6 154.7L766.9 141.6L767.2 153.5L767.5 153.9L767.8 146.7L768.1 143.5L768.4 157.0L768.7 149.5L769.0 157.5L769.3 151.9L769.6 158.4L770.0 152.5L770.3 145.3L770.6 154.1L770.9 152.1L771.2 158.7L771.5 151.5L771.8 151.7L772.1 159.6L772.4 161.7L772.7 159.5L773.0 161.3L773.3 157.3L773.6 162.9L773.9 160.3L774.2 157.1L774.6 155.2L774.9 155.9L775.2 170.1L775.5 155.1L775.8 152.5L776.1 152.8L776.4 155.0L776.7 156.8L777.0 147.7L777.3 142.2L777.6 156.4L777.9 144.6L778.2 156.2L778.5 155.3L778.8 161.7L779.1 165.0L779.5 157.2L779.8 151.5L780.1 148.0L780.4 150.3L780.7 155.5L781.0 142.4L781.3 155.8L781.6 154.9L781.9 159.2L782.2 153.1L782.5 155.9L782.8 150.5L783.1 151.9L783.4 143.7L783.7 155.8L784.1 164.8L784.4 155.9L784.7 157.3L785.0 148.5L785.3 163.5L785.6 149.7L785.9 159.6L786.2 155.3L786.5 148.1L786.8 160.7L787.1 154.2L787.4 155.3L787.7 157.0L788.0 154.0L788.3 151.8L788.7 157.3L789.0 151.9L789.3 155.2L789.6 150.5L789.9 145.0L790.2 150.1L790.5 151.0L790.8 154.4L791.1 161.8L791.4 143.5L791.7 155.1L792.0 140.4L792.3 143.1L792.6 151.2L792.9 140.3L793.3 142.7L793.6 154.9L793.9 154.3L794.2 152.9L794.5 148.6L794.8 167.3L795.1 152.1L795.4 148.4L795.7 164.5L796.0 157.7L796.3 149.7L796.6 160.9L796.9 154.5L797.2 157.7L797.5 155.2L797.8 147.4L798.2 160.0L798.5 155.0L798.8 147.5L799.1 149.1L799.4 160.1L799.7 151.7L800.0 154.1L800.3 157.9L800.6 154.7L800.9 144.3L801.2 157.7L801.5 159.8L801.8 159.6L802.1 164.5L802.4 156.7L802.8 159.5L803.1 164.7L803.4 152.9L803.7 165.7L804.0 166.0L804.3 159.8L804.6 166.8L804.9 160.6L805.2 149.5L805.5 162.0L805.8 156.8L806.1 157.3L806.4 155.5L806.7 163.3L807.0 158.4L807.4 151.0L807.7 158.4L808.0 159.9L808.3 150.5L808.6 151.9L808.9 152.1L809.2 150.7L809.5 156.8L809.8 161.0L810.1 166.6L810.4 162.3L810.7 161.4L811.0 162.1L811.3 163.2L811.6 152.4L812.0 158.8L812.3 156.5L812.6 153.8L812.9 151.9L813.2 151.1L813.5 152.6L813.8 146.4L814.1 157.5L814.4 154.2L814.7 155.3L815.0 156.6L815.3 159.1L815.6 150.9L815.9 154.0L816.2 144.8L816.5 140.9L816.9 143.0L817.2 164.7L817.5 143.4L817.8 157.5L818.1 163.5L818.4 151.5L818.7 164.6L819.0 166.5L819.3 161.0L819.6 169.8L819.9 158.5L820.2 149.8L820.5 157.5L820.8 151.3L821.1 145.9L821.5 145.8L821.8 178.8L822.1 150.7L822.4 154.2L822.7 149.8L823.0 154.7L823.3 152.3L823.6 151.4L823.9 146.3L824.2 144.9L824.5 149.1L824.8 155.7L825.1 166.9L825.4 160.4L825.7 165.2L826.1 157.1L826.4 153.5L826.7 145.7L827.0 154.2L827.3 140.2L827.6 151.9L827.9 163.9L828.2 156.0L828.5 161.2L828.8 151.4L829.1 145.3L829.4 150.9L829.7 151.3L830.0 161.6L830.3 166.4L830.7 149.3L831.0 151.9L831.3 153.7L831.6 152.4L831.9 146.8L832.2 155.4L832.5 157.3L832.8 157.6L833.1 147.8L833.4 154.7L833.7 144.4L834.0 161.1L834.3 144.7L834.6 153.9L834.9 152.7L835.2 151.5L835.6 148.5L835.9 143.8L836.2 165.8L836.5 156.2L836.8 156.1L837.1 167.7L837.4 153.9L837.7 158.4L838.0 155.2L838.3 162.9L838.6 158.3L838.9 157.2L839.2 153.8L839.5 157.3L839.8 162.9L840.2 142.5L840.5 154.7L840.8 153.0L841.1 153.6L841.4 143.0L841.7 159.6L842.0 149.4L842.3 153.3L842.6 151.4L842.9 144.0L843.2 151.2L843.5 142.2L843.8 147.8L844.1 151.7L844.4 153.6L844.8 154.0L845.1 152.8L845.4 167.2L845.7 156.8L846.0 146.5L846.3 150.6L846.6 150.4L846.9 153.5L847.2 151.1L847.5 149.4L847.8 165.1L848.1 155.1L848.4 152.7L848.7 153.0L849.0 153.5L849.4 163.5L849.7 157.9L850.0 161.9L850.3 134.7L850.6 156.7L850.9 161.4L851.2 167.1L851.5 155.0L851.8 143.9L852.1 158.9L852.4 151.6L852.7 143.8L853.0 151.3L853.3 161.7L853.6 163.1L853.9 160.1L854.3 148.7L854.6 171.2L854.9 148.0L855.2 154.7L855.5 145.8L855.8 163.2L856.1 158.0L856.4 160.4L856.7 155.6L857.0 154.4L857.3 156.2L857.6 143.2L857.9 161.3L858.2 160.9L858.5 152.6L858.9 154.8L859.2 156.8L859.5 164.7L859.8 157.2L860.1 154.9L860.4 151.4L860.7 145.3L861.0 150.9L861.3 154.9L861.6 152.8L861.9 154.8L862.2 159.1L862.5 156.9L862.8 156.0L863.1 158.5L863.5 155.5L863.8 154.3L864.1 157.1L864.4 143.4L864.7 162.4L865.0 146.5L865.3 160.0L865.6 154.8L865.9 161.8L866.2 155.1L866.5 148.6L866.8 161.6L867.1 155.9L867.4 155.4L867.7 155.0L868.1 160.8L868.4 159.6L868.7 155.9L869.0 144.6L869.3 151.9L869.6 155.0L869.9 165.6L870.2 156.9L870.5 153.6L870.8 162.0L871.1 154.0L871.4 154.5L871.7 156.1L872.0 145.8L872.3 161.4L872.6 158.2L873.0 152.8L873.3 148.5L873.6 157.2L873.9 164.4L874.2 151.7L874.5 149.1L874.8 158.4L875.1 145.4L875.4 141.5L875.7 152.7L876.0 151.3L876.3 154.2L876.6 152.7L876.9 158.3L877.2 154.9L877.6 152.4L877.9 153.3L878.2 160.2L878.5 162.2L878.8 161.8L879.1 160.4L879.4 121.0L879.7 149.6L880.0 154.0L880.3 157.3L880.6 145.7L880.9 164.7L881.2 157.7L881.5 151.5L881.8 156.5L882.2 153.2L882.5 150.6L882.8 158.4L883.1 152.2L883.4 146.2L883.7 150.8L884.0 154.0L884.3 147.9L884.6 162.6L884.9 148.0L885.2 166.0L885.5 160.9L885.8 145.4L886.1 155.9L886.4 162.6L886.8 153.6L887.1 147.1L887.4 155.3L887.7 175.9L888.0 145.1L888.3 158.0L888.6 154.4L888.9 153.6L889.2 151.9L889.5 152.3L889.8 160.9L890.1 158.3L890.4 148.3L890.7 164.3L891.0 146.3L891.3 158.9L891.7 155.7L892.0 162.6L892.3 157.3L892.6 161.5L892.9 154.7L893.2 161.1L893.5 157.0L893.8 168.7L894.1 150.7L894.4 162.8L894.7 158.4L895.0 156.7L895.3 151.9L895.6 158.4L895.9 146.2L896.3 146.7L896.6 160.0L896.9 145.8L897.2 164.8L897.5 153.2L897.8 157.4L898.1 156.4L898.4 158.7L898.7 154.4L899.0 154.0L899.3 155.5L899.6 163.2L899.9 163.8L900.2 164.8L900.5 158.8L900.9 155.2L901.2 146.3L901.5 161.1L901.8 162.3L902.1 154.5L902.4 162.0L902.7 171.0L903.0 157.4L903.3 163.4L903.6 158.7L903.9 145.9L904.2 153.6L904.5 153.9L904.8 159.8L905.1 151.4L905.5 153.9L905.8 150.7L906.1 156.2L906.4 156.9L906.7 162.7L907.0 161.3L907.3 157.0L907.6 157.3L907.9 156.4L908.2 156.3L908.5 165.2L908.8 139.4L909.1 154.0L909.4 157.0L909.7 162.2L910.1 148.2L910.4 157.2L910.7 160.4L911.0 150.5L911.3 143.2L911.6 152.8L911.9 147.5L912.2 159.1L912.5 149.5L912.8 165.7L913.1 155.2L913.4 149.6L913.7 149.5L914.0 147.8L914.3 157.4L914.6 164.1L915.0 153.4L915.3 160.4L915.6 148.1L915.9 156.0L916.2 168.3L916.5 145.3L916.8 161.9L917.1 162.0L917.4 142.7L917.7 145.7L918.0 148.5L918.3 160.6L918.6 152.0L918.9 153.9L919.2 159.4L919.6 155.8L919.9 156.4L920.2 152.8L920.5 161.8L920.8 150.0L921.1 165.1L921.4 152.8L921.7 149.7L922.0 158.6L922.3 157.2L922.6 141.8L922.9 155.5L923.2 145.9L923.5 149.2L923.8 159.2L924.2 148.7L924.5 156.6L924.8 151.8L925.1 166.5L925.4 153.8L925.7 147.1L926.0 147.7L926.3 145.1L926.6 155.2L926.9 154.0L927.2 160.1L927.5 154.8L927.8 154.7L928.1 156.0L928.4 153.3L928.8 156.1L929.1 159.1L929.4 158.7L929.7 150.4L930.0 142.4L930.3 148.5L930.6 155.3L930.9 137.7L931.2 150.1L931.5 156.2L931.8 149.6L932.1 145.9L932.4 164.1L932.7 161.9L933.0 151.6L933.3 161.8L933.7 161.8L934.0 146.5L934.3 170.8L934.6 148.2L934.9 152.5L935.2 147.1L935.5 154.9L935.8 145.9L936.1 154.1L936.4 160.9L936.7 155.6L937.0 152.8L937.3 164.3L937.6 149.2L937.9 160.8L938.3 152.6L938.6 155.9L938.9 154.8L939.2 155.6L939.5 154.4L939.8 150.2L940.1 151.7L940.4 158.4L940.7 154.9L941.0 148.3L941.3 151.3L941.6 151.3L941.9 155.2L942.2 156.8L942.5 156.3L942.9 151.5L943.2 155.8L943.5 147.4L943.8 137.9L944.1 155.3L944.4 145.4L944.7 149.8L945.0 147.9L945.3 159.2L945.6 147.8L945.9 157.1L946.2 152.1L946.5 147.1L946.8 144.8L947.1 157.4L947.5 156.9L947.8 159.4L948.1 165.9L948.4 156.1L948.7 156.3L949.0 153.5L949.3 154.8L949.6 151.7L949.9 148.8L950.2 166.9L950.5 142.5L950.8 155.4L951.1 156.7L951.4 154.6L951.7 147.5L952.0 152.5L952.4 151.0L952.7 146.9L953.0 153.4L953.3 151.0L953.6 149.8L953.9 157.4L954.2 146.3L954.5 156.0L954.8 149.3L955.1 155.8L955.4 153.7L955.7 154.9L956.0 146.8L956.3 147.7L956.6 147.4L957.0 154.4L957.3 158.3L957.6 160.6L957.9 150.6L958.2 154.1L958.5 143.4L958.8 130.0L959.1 148.3L959.4 149.7L959.7 144.1L960.0 142.8L960.3 157.0L960.6 148.4L960.9 143.2L961.2 168.5L961.6 155.1L961.9 152.4L962.2 158.9L962.5 149.9L962.8 164.6L963.1 144.9L963.4 146.4L963.7 153.6L964.0 149.9L964.3 163.4L964.6 144.5L964.9 149.8L965.2 155.8L965.5 157.7L965.8 160.4L966.2 156.4L966.5 168.5L966.8 151.9L967.1 156.0L967.4 160.0L967.7 152.7L968.0 152.8L968.3 151.7L968.6 150.6L968.9 147.6L969.2 151.1L969.5 144.9L969.8 157.0L970.1 144.5L970.4 167.5L970.7 164.9L971.1 161.2L971.4 152.9L971.7 150.2L972.0 161.5L972.3 154.8L972.6 156.8L972.9 149.1L973.2 159.9L973.5 148.5L973.8 154.5L974.1 143.4L974.4 150.0L974.7 157.5L975.0 151.3L975.3 151.6L975.7 159.3L976.0 153.9L976.3 162.2L976.6 139.0L976.9 157.5L977.2 157.1L977.5 143.9L977.8 145.7L978.1 159.3L978.4 146.9L978.7 149.6L979.0 157.3L979.3 151.4L979.6 156.4L979.9 147.8L980.3 155.3L980.6 160.3L980.9 155.5L981.2 139.9L981.5 158.0L981.8 154.0L982.1 148.2L982.4 162.6L982.7 142.9L983.0 165.9L983.3 150.2L983.6 164.5L983.9 154.2L984.2 145.9L984.5 154.8L984.9 156.3L985.2 157.7L985.5 161.2L985.8 148.7L986.1 157.5L986.4 162.3L986.7 152.8L987.0 148.8L987.3 148.9L987.6 159.5L987.9 159.9L988.2 149.5L988.5 146.0L988.8 162.5L989.1 144.8L989.4 155.6L989.8 149.5L990.1 143.7L990.4 155.5L990.7 153.4L991.0 163.5L991.3 168.6L991.6 153.0L991.9 160.5L992.2 160.8L992.5 151.0L992.8 149.3L993.1 164.8L993.4 152.4L993.7 154.2L994.0 152.4L994.4 153.5L994.7 150.7L995.0 158.9L995.3 162.3L995.6 151.9L995.9 145.6L996.2 154.7L996.5 145.0L996.8 150.0L997.1 161.9L997.4 168.8L997.7 156.3L998.0 147.4L998.3 158.9L998.6 139.8L999.0 149.4L999.3 163.0L999.6 158.3L999.9 145.1L1000.2 135.8L1000.5 159.1L1000.8 153.5L1001.1 149.8L1001.4 156.3L1001.7 150.0L1002.0 141.6L1002.3 158.6L1002.6 149.4L1002.9 147.2L1003.2 144.6L1003.6 154.4L1003.9 148.0L1004.2 156.8L1004.5 151.0L1004.8 159.4L1005.1 150.1L1005.4 148.7L1005.7 140.1L1006.0 145.7L1006.3 156.8L1006.6 171.3L1006.9 144.4L1007.2 145.8L1007.5 154.3L1007.8 155.2L1008.1 148.2L1008.5 153.0L1008.8 142.5L1009.1 151.1L1009.4 158.7L1009.7 163.3L1010.0 152.1L1010.3 151.3L1010.6 155.8L1010.9 159.8L1011.2 155.8L1011.5 148.2L1011.8 155.4L1012.1 159.0L1012.4 148.8L1012.7 145.2L1013.1 156.8L1013.4 156.0L1013.7 160.0L1014.0 154.8L1014.3 149.8L1014.6 151.2L1014.9 147.7L1015.2 148.3L1015.5 150.7L1015.8 151.2L1016.1 161.3L1016.4 146.5L1016.7 153.9L1017.0 150.6L1017.3 163.6L1017.7 156.0L1018.0 151.7L1018.3 159.3L1018.6 154.6L1018.9 150.9L1019.2 163.6L1019.5 158.2L1019.8 164.9L1020.1 161.5L1020.4 159.0L1020.7 155.2L1021.0 147.6L1021.3 158.8L1021.6 155.2L1021.9 158.7L1022.3 154.3L1022.6 150.4L1022.9 148.1L1023.2 158.4L1023.5 162.3L1023.8 152.4L1024.1 157.2L1024.4 162.9L1024.7 149.2L1025.0 152.3L1025.3 147.5L1025.6 162.0L1025.9 156.3L1026.2 149.5L1026.5 144.3L1026.8 153.7L1027.2 161.3L1027.5 153.2L1027.8 152.3L1028.1 159.0L1028.4 147.4L1028.7 155.2L1029.0 158.5L1029.3 150.0L1029.6 149.6L1029.9 156.6L1030.2 154.3L1030.5 153.8L1030.8 156.5L1031.1 157.0L1031.4 150.0L1031.8 151.7L1032.1 158.3L1032.4 162.5L1032.7 163.9L1033.0 150.1L1033.3 162.6L1033.6 160.5L1033.9 155.6L1034.2 158.8L1034.5 160.8L1034.8 166.4L1035.1 148.6L1035.4 158.9L1035.7 154.2L1036.0 153.7L1036.4 161.9L1036.7 160.0L1037.0 148.6L1037.3 153.1L1037.6 156.3L1037.9 146.3L1038.2 160.6L1038.5 154.5L1038.8 155.9L1039.1 157.2L1039.4 166.6L1039.7 155.6L1040.0 153.1L1040.3 166.0L1040.6 152.0L1041.0 151.6L1041.3 146.1L1041.6 161.4L1041.9 156.2L1042.2 157.3L1042.5 155.3L1042.8 153.7L1043.1 149.8L1043.4 149.9L1043.7 157.2L1044.0 155.4L1044.3 164.5L1044.6 149.5L1044.9 151.3L1045.2 148.4L1045.5 163.6L1045.9 147.3L1046.2 159.7L1046.5 163.9L1046.8 153.5L1047.1 159.3L1047.4 141.3L1047.7 152.1L1048.0 144.1L1048.3 155.3L1048.6 154.5L1048.9 149.9L1049.2 160.8L1049.5 157.0L1049.8 151.4L1050.1 151.5L1050.5 145.7L1050.8 153.7L1051.1 168.1L1051.4 150.5L1051.7 157.5L1052.0 151.0L1052.3 159.5L1052.6 157.4L1052.9 153.6L1053.2 144.0L1053.5 152.0L1053.8 162.7L1054.1 153.9L1054.4 159.2L1054.7 152.3L1055.1 143.9L1055.4 157.8L1055.7 157.2L1056.0 151.4L1056.3 152.7L1056.6 157.1L1056.9 148.8L1057.2 157.3L1057.5 154.1L1057.8 140.7L1058.1 154.5L1058.4 151.6L1058.7 150.4L1059.0 158.0L1059.3 152.4L1059.7 158.8L1060.0 162.0L1060.3 156.1L1060.6 145.4L1060.9 150.5L1061.2 160.7L1061.5 153.6L1061.8 150.3L1062.1 155.1L1062.4 158.9L1062.7 157.4L1063.0 159.8L1063.3 150.5L1063.6 153.9L1063.9 154.0L1064.3 155.6L1064.6 142.5L1064.9 154.1L1065.2 147.2L1065.5 164.0L1065.8 165.3L1066.1 166.0L1066.4 160.5L1066.7 150.6L1067.0 161.8L1067.3 154.5L1067.6 159.8L1067.9 150.4L1068.2 152.6L1068.5 159.1L1068.8 167.3L1069.2 156.1L1069.5 170.2L1069.8 173.3L1070.1 148.4L1070.4 156.5L1070.7 150.8L1071.0 156.0L1071.3 153.7L1071.6 156.7L1071.9 162.9L1072.2 162.5L1072.5 158.1L1072.8 156.4L1073.1 157.1L1073.4 157.1L1073.8 159.5L1074.1 156.0L1074.4 159.1L1074.7 147.5L1075.0 160.5L1075.3 166.7L1075.6 156.9L1075.9 147.0L1076.2 163.9L1076.5 153.4L1076.8 137.0L1077.1 153.1L1077.4 159.0L1077.7 157.5L1078.0 162.7L1078.4 158.6L1078.7 155.4L1079.0 142.0L1079.3 147.4L1079.6 155.4L1079.9 158.4L1080.2 147.8L1080.5 150.1L1080.8 156.5L1081.1 141.5L1081.4 141.4L1081.7 152.0L1082.0 154.9L1082.3 150.5L1082.6 139.3L1083.0 153.9L1083.3 145.7L1083.6 158.0L1083.9 153.4L1084.2 155.8L1084.5 158.0L1084.8 150.5L1085.1 158.9L1085.4 161.6L1085.7 156.2L1086.0 162.0L1086.3 150.2L1086.6 159.9L1086.9 155.8L1087.2 148.0L1087.5 153.7L1087.9 150.9L1088.2 150.7L1088.5 154.7L1088.8 160.9L1089.1 152.4L1089.4 155.6L1089.7 145.4L1090.0 155.3L1090.3 161.7L1090.6 159.7L1090.9 157.7L1091.2 151.8L1091.5 149.0L1091.8 154.2L1092.1 146.1L1092.5 146.7L1092.8 160.0L1093.1 148.6L1093.4 165.5L1093.7 145.4L1094.0 158.7L1094.3 146.8L1094.6 155.2L1094.9 147.9L1095.2 154.9L1095.5 153.7L1095.8 151.8L1096.1 157.6L1096.4 163.8L1096.7 150.3L1097.1 159.6L1097.4 154.7L1097.7 153.8L1098.0 167.4L1098.3 140.3L1098.6 149.7L1098.9 142.6L1099.2 151.9L1099.5 152.3L1099.8 177.2L1100.1 155.9L1100.4 165.1L1100.7 161.8L1101.0 150.8L1101.3 156.5L1101.7 163.8L1102.0 154.5L1102.3 154.9L1102.6 157.0L1102.9 144.5L1103.2 148.9L1103.5 156.0L1103.8 157.1L1104.1 147.9L1104.4 151.9L1104.7 153.1L1105.0 153.1L1105.3 158.2L1105.6 154.3L1105.9 154.5L1106.2 144.6L1106.6 147.1L1106.9 155.7L1107.2 143.7L1107.5 155.4L1107.8 149.6L1108.1 148.5L1108.4 157.9L1108.7 149.4L1109.0 148.4L1109.3 149.8L1109.6 154.4L1109.9 171.3L1110.2 141.2L1110.5 154.1L1110.8 152.5L1111.2 160.3L1111.5 151.9L1111.8 138.7L1112.1 162.5L1112.4 147.7L1112.7 154.1L1113.0 145.8L1113.3 142.7L1113.6 151.4L1113.9 159.7L1114.2 159.7L1114.5 150.7L1114.8 157.5L1115.1 152.2L1115.4 155.3L1115.8 155.6L1116.1 158.7L1116.4 150.9L1116.7 154.1L1117.0 156.3L1117.3 155.5L1117.6 150.1L1117.9 165.7L1118.2 152.2L1118.5 160.3L1118.8 156.6L1119.1 163.0L1119.4 141.7L1119.7 168.2L1120.0 154.1L1120.4 147.8L1120.7 156.0L1121.0 169.5L1121.3 158.4L1121.6 147.5L1121.9 152.4L1122.2 163.7L1122.5 146.5L1122.8 154.0L1123.1 153.4L1123.4 168.9L1123.7 153.3L1124.0 163.5L1124.3 151.1L1124.6 150.3L1124.9 161.6L1125.3 159.3L1125.6 144.2L1125.9 158.9L1126.2 158.7L1126.5 150.9L1126.8 156.0L1127.1 156.2L1127.4 151.5L1127.7 150.9L1128.0 150.3L1128.3 152.9L1128.6 146.1L1128.9 153.9L1129.2 144.8L1129.5 154.6L1129.9 153.6L1130.2 147.5L1130.5 159.3L1130.8 166.1L1131.1 162.3L1131.4 145.4L1131.7 162.1L1132.0 155.4" stroke="#1f77b4" stroke-width="1" shape-rendering="crispEdges"/>
<line x1="89" y1="152" x2="1132" y2="152" stroke="#fff" stroke-width="2" stroke-dasharray="10 2"/>
<line x1="89" y1="322" x2="1132" y2="322" stroke="#fff" stroke-width="2" stroke-dasharray="10 2"/>
<rect x="91" y="295.3" width="103.7" height="27.4" fill="#000" fill-opacity="0.5"/>
<rect x="91" y="152" width="92.5" height="27.4" fill="#000" fill-opacity="0.5"/>
</g>
<g clip-path="url(#cb)" fill="none">
<path d="M440 498.5H444.5V572.5" stroke="#e8842d" stroke-opacity="0.8" stroke-dasharray="3 2"/>
<path d="M443.5 572.5V795" stroke="#e8842d" stroke-opacity="0.8" stroke-dasharray="3 2"/>
<path d="M71 498.5H443.5V572.5H444.5V807.5H1132" stroke="#e8842d" stroke-width="1"/>
</g>
<path d="M90.5 80V423.5H1132" fill="none" stroke="#9e9e9e"/>
<path d="M71.5 481V825.5H1132" fill="none" stroke="#9e9e9e"/>
<g clip-path="url(#cl)"><text x="84.5" y="107.2" text-anchor="end" font-family="Liberation Sans, sans-serif" stroke="currentColor" stroke-width="0.2" font-size="13" fill="#e0e0e0" color="#e0e0e0">0.014</text><text x="84.5" y="134.2" text-anchor="end" font-family="Liberation Sans, sans-serif" stroke="currentColor" stroke-width="0.2" font-size="13" fill="#e0e0e0" color="#e0e0e0">0.012</text><text x="84.5" y="161.2" text-anchor="end" font-family="Liberation Sans, sans-serif" stroke="currentColor" stroke-width="0.2" font-size="13" fill="#e0e0e0" color="#e0e0e0">0.01</text><text x="84.5" y="187.2" text-anchor="end" font-family="Liberation Sans, sans-serif" stroke="currentColor" stroke-width="0.2" font-size="13" fill="#e0e0e0" color="#e0e0e0">0.008</text><text x="84.5" y="214.2" text-anchor="end" font-family="Liberation Sans, sans-serif" stroke="currentColor" stroke-width="0.2" font-size="13" fill="#e0e0e0" color="#e0e0e0">0.006</text><text x="84.5" y="241.2" text-anchor="end" font-family="Liberation Sans, sans-serif" stroke="currentColor" stroke-width="0.2" font-size="13" fill="#e0e0e0" color="#e0e0e0">0.004</text><text x="84.5" y="267.2" text-anchor="end" font-family="Liberation Sans, sans-serif" stroke="currentColor" stroke-width="0.2" font-size="13" fill="#e0e0e0" color="#e0e0e0">0.002</text><text x="84.5" y="294.2" text-anchor="end" font-family="Liberation Sans, sans-serif" stroke="currentColor" stroke-width="0.2" font-size="13" fill="#e0e0e0" color="#e0e0e0">0</text><text x="84.5" y="321.2" text-anchor="end" font-family="Liberation Sans, sans-serif" stroke="currentColor" stroke-width="0.2" font-size="13" fill="#e0e0e0" color="#e0e0e0">-0.002</text><text x="84.5" y="347.2" text-anchor="end" font-family="Liberation Sans, sans-serif" stroke="currentColor" stroke-width="0.2" font-size="13" fill="#e0e0e0" color="#e0e0e0">-0.004</text><text x="84.5" y="374.2" text-anchor="end" font-family="Liberation Sans, sans-serif" stroke="currentColor" stroke-width="0.2" font-size="13" fill="#e0e0e0" color="#e0e0e0">-0.006</text><text x="84.5" y="401.2" text-anchor="end" font-family="Liberation Sans, sans-serif" stroke="currentColor" stroke-width="0.2" font-size="13" fill="#e0e0e0" color="#e0e0e0">-0.008</text><text x="84.5" y="427.2" text-anchor="end" font-family="Liberation Sans, sans-serif" stroke="currentColor" stroke-width="0.2" font-size="13" fill="#e0e0e0" color="#e0e0e0">-0.01</text></g><text x="65.5" y="504.4" text-anchor="end" font-family="Liberation Sans, sans-serif" stroke="currentColor" stroke-width="0.2" font-size="13" fill="#e0e0e0" color="#e0e0e0">1</text><text x="65.5" y="566.4" text-anchor="end" font-family="Liberation Sans, sans-serif" stroke="currentColor" stroke-width="0.2" font-size="13" fill="#e0e0e0" color="#e0e0e0">0.8</text><text x="65.5" y="628.4" text-anchor="end" font-family="Liberation Sans, sans-serif" stroke="currentColor" stroke-width="0.2" font-size="13" fill="#e0e0e0" color="#e0e0e0">0.6</text><text x="65.5" y="690.4" text-anchor="end" font-family="Liberation Sans, sans-serif" stroke="currentColor" stroke-width="0.2" font-size="13" fill="#e0e0e0" color="#e0e0e0">0.4</text><text x="65.5" y="752.4" text-anchor="end" font-family="Liberation Sans, sans-serif" stroke="currentColor" stroke-width="0.2" font-size="13" fill="#e0e0e0" color="#e0e0e0">0.2</text><text x="65.5" y="813.4" text-anchor="end" font-family="Liberation Sans, sans-serif" stroke="currentColor" stroke-width="0.2" font-size="13" fill="#e0e0e0" color="#e0e0e0">0</text><text x="148.9" y="440" textLength="51.2" lengthAdjust="spacingAndGlyphs" font-family="Liberation Sans, sans-serif" stroke="currentColor" stroke-width="0.2" font-size="13.2" fill="#e0e0e0" color="#e0e0e0">-1h,50m</text><text x="148.9" y="841" textLength="51.2" lengthAdjust="spacingAndGlyphs" font-family="Liberation Sans, sans-serif" stroke="currentColor" stroke-width="0.2" font-size="13.2" fill="#e0e0e0" color="#e0e0e0">-1h,50m</text><text x="272.9" y="440" textLength="51.2" lengthAdjust="spacingAndGlyphs" font-family="Liberation Sans, sans-serif" stroke="currentColor" stroke-width="0.2" font-size="13.2" fill="#e0e0e0" color="#e0e0e0">-1h,45m</text><text x="272.9" y="841" textLength="51.2" lengthAdjust="spacingAndGlyphs" font-family="Liberation Sans, sans-serif" stroke="currentColor" stroke-width="0.2" font-size="13.2" fill="#e0e0e0" color="#e0e0e0">-1h,45m</text><text x="396.9" y="440" textLength="51.2" lengthAdjust="spacingAndGlyphs" font-family="Liberation Sans, sans-serif" stroke="currentColor" stroke-width="0.2" font-size="13.2" fill="#e0e0e0" color="#e0e0e0">-1h,40m</text><text x="396.9" y="841" textLength="51.2" lengthAdjust="spacingAndGlyphs" font-family="Liberation Sans, sans-serif" stroke="currentColor" stroke-width="0.2" font-size="13.2" fill="#e0e0e0" color="#e0e0e0">-1h,40m</text><text x="520.9" y="440" textLength="51.2" lengthAdjust="spacingAndGlyphs" font-family="Liberation Sans, sans-serif" stroke="currentColor" stroke-width="0.2" font-size="13.2" fill="#e0e0e0" color="#e0e0e0">-1h,35m</text><text x="520.9" y="841" textLength="51.2" lengthAdjust="spacingAndGlyphs" font-family="Liberation Sans, sans-serif" stroke="currentColor" stroke-width="0.2" font-size="13.2" fill="#e0e0e0" color="#e0e0e0">-1h,35m</text><text x="644.9" y="440" textLength="51.2" lengthAdjust="spacingAndGlyphs" font-family="Liberation Sans, sans-serif" stroke="currentColor" stroke-width="0.2" font-size="13.2" fill="#e0e0e0" color="#e0e0e0">-1h,30m</text><text x="644.9" y="841" textLength="51.2" lengthAdjust="spacingAndGlyphs" font-family="Liberation Sans, sans-serif" stroke="currentColor" stroke-width="0.2" font-size="13.2" fill="#e0e0e0" color="#e0e0e0">-1h,30m</text><text x="768.9" y="440" textLength="51.2" lengthAdjust="spacingAndGlyphs" font-family="Liberation Sans, sans-serif" stroke="currentColor" stroke-width="0.2" font-size="13.2" fill="#e0e0e0" color="#e0e0e0">-1h,25m</text><text x="768.9" y="841" textLength="51.2" lengthAdjust="spacingAndGlyphs" font-family="Liberation Sans, sans-serif" stroke="currentColor" stroke-width="0.2" font-size="13.2" fill="#e0e0e0" color="#e0e0e0">-1h,25m</text><text x="892.9" y="440" textLength="51.2" lengthAdjust="spacingAndGlyphs" font-family="Liberation Sans, sans-serif" stroke="currentColor" stroke-width="0.2" font-size="13.2" fill="#e0e0e0" color="#e0e0e0">-1h,20m</text><text x="892.9" y="841" textLength="51.2" lengthAdjust="spacingAndGlyphs" font-family="Liberation Sans, sans-serif" stroke="currentColor" stroke-width="0.2" font-size="13.2" fill="#e0e0e0" color="#e0e0e0">-1h,20m</text><text x="1016.9" y="440" textLength="51.2" lengthAdjust="spacingAndGlyphs" font-family="Liberation Sans, sans-serif" stroke="currentColor" stroke-width="0.2" font-size="13.2" fill="#e0e0e0" color="#e0e0e0">-1h,15m</text><text x="1016.9" y="841" textLength="51.2" lengthAdjust="spacingAndGlyphs" font-family="Liberation Sans, sans-serif" stroke="currentColor" stroke-width="0.2" font-size="13.2" fill="#e0e0e0" color="#e0e0e0">-1h,15m</text><text x="493.5" y="70.2" textLength="235.6" lengthAdjust="spacingAndGlyphs" font-family="Liberation Sans, sans-serif" stroke="currentColor" stroke-width="0.2" font-size="13" fill="#e0e0e0" color="#e0e0e0">L1:IOO-OFI_PD_A_DC_POWER [s-trend]</text><text x="442.3" y="471.2" textLength="317.8" lengthAdjust="spacingAndGlyphs" font-family="Liberation Sans, sans-serif" stroke="currentColor" stroke-width="0.2" font-size="13" fill="#e0e0e0" color="#e0e0e0">L1:SYS-MOTION_C_BDIV_E_CLOSEDSWITCH [s-trend]</text><text transform="translate(39.3,272.3) rotate(-90)" textLength="41" lengthAdjust="spacingAndGlyphs" font-family="Liberation Sans, sans-serif" stroke="currentColor" stroke-width="0.2" font-size="13" fill="#e0e0e0" color="#e0e0e0">counts</text><text transform="translate(39.3,673.5) rotate(-90)" textLength="41" lengthAdjust="spacingAndGlyphs" font-family="Liberation Sans, sans-serif" stroke="currentColor" stroke-width="0.2" font-size="13" fill="#e0e0e0" color="#e0e0e0">counts</text><text x="94" y="169.6" font-family="Liberation Sans, sans-serif" stroke="currentColor" stroke-width="0.2" font-size="13" fill="#e0e0e0" color="#e0e0e0">Y2=0.0102535</text><text x="94" y="313.8" font-family="Liberation Sans, sans-serif" stroke="currentColor" stroke-width="0.2" font-size="13" fill="#e0e0e0" color="#e0e0e0">Y1=-0.00247569</text><text x="1041.8" y="242.3" textLength="86.2" lengthAdjust="spacingAndGlyphs" font-family="Liberation Sans, sans-serif" stroke="currentColor" stroke-width="0.2" font-size="13" fill="#e0e0e0" color="#e0e0e0">ΔY=0.0127292</text><text x="378.3" y="883.5" textLength="402.3" lengthAdjust="spacingAndGlyphs" font-family="Liberation Sans, sans-serif" stroke="currentColor" stroke-width="0.2" font-size="16.5" fill="#f2f2f2" color="#f2f2f2">t0 = Tue Oct 07 2025 20:54:52 UTC [1443905710.1600]</text>
</svg>
<div class="btn" style="left:7px;width:100px"><svg width="10" height="11" style="position:absolute;left:9px;top:6px"><path d="M0.5 0.5L9 5.5L0.5 10.5Z" fill="#f0f0f0" stroke="#b0b0b0"/></svg><span style="position:absolute;left:25px;top:0">start online</span></div>
<div class="btn dis" style="left:109px;width:100px"><svg width="10" height="10" style="position:absolute;left:11px;top:7px"><rect x="0.5" y="0.5" width="8" height="8" fill="#fafafa" stroke="#cfcfcf"/></svg><span style="position:absolute;left:26px;top:0">stop online</span></div>
<div class="btn" style="left:211px;width:100px">reset</div>
<div class="btn" style="left:313px;width:100px">add channels</div>
<div class="btn" style="left:1040px;width:80px">snapshot</div>
<svg width="14" height="9" style="position:absolute;left:1129px;top:911px"><path d="M0 8.5L6.5 1L13 8.5Z" fill="#2e3436"/></svg>
<div class="status">nds.ligo.caltech.edu  [1338649 channels]</div>
<div class="links"><a>ndscope</a> <a>0.19.3</a> (<a>report bug</a>)</div>
<div class="grip" style="left:1149px;top:948px"></div>
<div class="grip" style="left:1146px;top:951px"></div><div class="grip" style="left:1149px;top:951px"></div>
<div class="grip" style="left:1143px;top:954px"></div><div class="grip" style="left:1146px;top:954px"></div><div class="grip" style="left:1149px;top:954px"></div>
<div class="grip" style="left:1140px;top:957px"></div><div class="grip" style="left:1143px;top:957px"></div><div class="grip" style="left:1146px;top:957px"></div><div class="grip" style="left:1149px;top:957px"></div>
</body></html>
